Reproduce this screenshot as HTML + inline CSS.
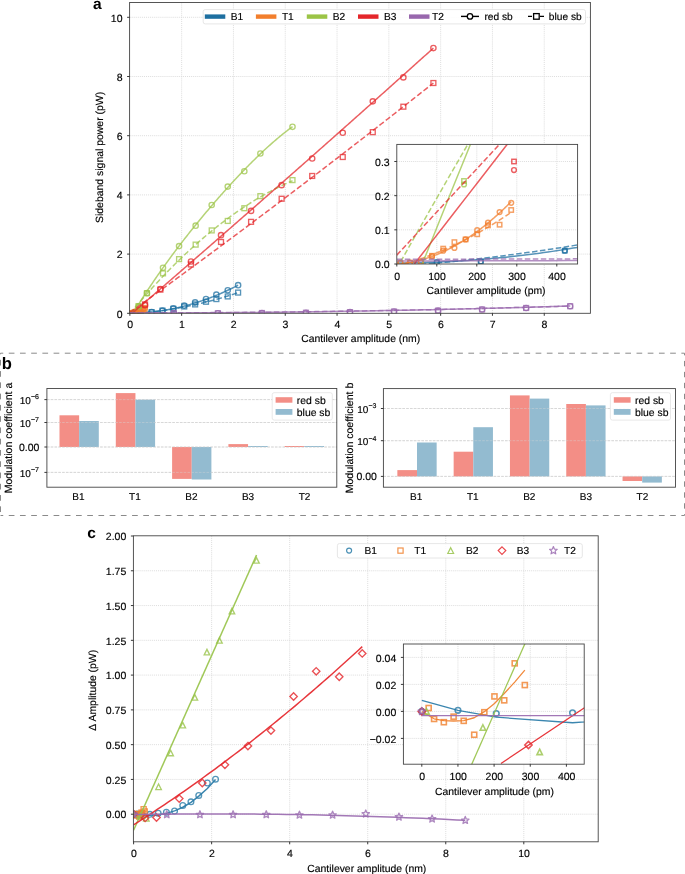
<!DOCTYPE html><html><head><meta charset="utf-8"><style>html,body{margin:0;padding:0;background:#fff;}</style></head><body><svg width="685" height="874" viewBox="0 0 685 874" style="display:block;font-family:'Liberation Sans',sans-serif;will-change:transform;text-rendering:geometricPrecision">
<rect width="685" height="874" fill="#fff"/>
<defs>
<clipPath id="ca"><rect x="129.6" y="2.5" width="460.79999999999995" height="310.8"/></clipPath>
<clipPath id="cai"><rect x="396.8" y="144.4" width="180.8" height="119.6"/></clipPath>
</defs>
<line x1="181.65" y1="2.5" x2="181.65" y2="313.3" stroke="#dadada" stroke-width="0.9" stroke-dasharray="1.05,1.0"/>
<line x1="233.45" y1="2.5" x2="233.45" y2="313.3" stroke="#dadada" stroke-width="0.9" stroke-dasharray="1.05,1.0"/>
<line x1="285.25" y1="2.5" x2="285.25" y2="313.3" stroke="#dadada" stroke-width="0.9" stroke-dasharray="1.05,1.0"/>
<line x1="337.05" y1="2.5" x2="337.05" y2="313.3" stroke="#dadada" stroke-width="0.9" stroke-dasharray="1.05,1.0"/>
<line x1="388.85" y1="2.5" x2="388.85" y2="313.3" stroke="#dadada" stroke-width="0.9" stroke-dasharray="1.05,1.0"/>
<line x1="440.65" y1="2.5" x2="440.65" y2="313.3" stroke="#dadada" stroke-width="0.9" stroke-dasharray="1.05,1.0"/>
<line x1="492.45" y1="2.5" x2="492.45" y2="313.3" stroke="#dadada" stroke-width="0.9" stroke-dasharray="1.05,1.0"/>
<line x1="544.25" y1="2.5" x2="544.25" y2="313.3" stroke="#dadada" stroke-width="0.9" stroke-dasharray="1.05,1.0"/>
<line x1="129.6" y1="254.10" x2="590.4" y2="254.10" stroke="#dadada" stroke-width="0.9" stroke-dasharray="1.05,1.0"/>
<line x1="129.6" y1="194.90" x2="590.4" y2="194.90" stroke="#dadada" stroke-width="0.9" stroke-dasharray="1.05,1.0"/>
<line x1="129.6" y1="135.70" x2="590.4" y2="135.70" stroke="#dadada" stroke-width="0.9" stroke-dasharray="1.05,1.0"/>
<line x1="129.6" y1="76.50" x2="590.4" y2="76.50" stroke="#dadada" stroke-width="0.9" stroke-dasharray="1.05,1.0"/>
<line x1="129.6" y1="17.30" x2="590.4" y2="17.30" stroke="#dadada" stroke-width="0.9" stroke-dasharray="1.05,1.0"/>
<polyline points="129.85,313.21 130.39,313.21 130.94,313.21 131.48,313.20 132.03,313.20 132.57,313.19 133.11,313.18 133.66,313.17 134.20,313.16 134.75,313.14 135.29,313.13 135.83,313.11 136.38,313.10 136.92,313.08 137.47,313.06 138.01,313.03 138.55,313.01 139.10,312.99 139.64,312.96 140.19,312.93 140.73,312.91 141.27,312.88 141.82,312.84 142.36,312.81 142.91,312.78 143.45,312.74 143.99,312.71 144.54,312.67 145.08,312.63 145.63,312.59 146.17,312.54 146.71,312.50 147.26,312.45 147.80,312.41 148.35,312.36 148.89,312.31 149.44,312.26 149.98,312.21 150.52,312.15 151.07,312.10 151.61,312.04 152.16,311.98 152.70,311.92 153.24,311.86 153.79,311.80 154.33,311.74 154.88,311.67 155.42,311.61 155.96,311.54 156.51,311.47 157.05,311.40 157.60,311.33 158.14,311.25 158.68,311.18 159.23,311.10 159.77,311.02 160.32,310.95 160.86,310.86 161.40,310.78 161.95,310.70 162.49,310.62 163.04,310.53 163.58,310.44 164.12,310.35 164.67,310.26 165.21,310.17 165.76,310.08 166.30,309.98 166.84,309.89 167.39,309.79 167.93,309.69 168.48,309.59 169.02,309.49 169.56,309.39 170.11,309.28 170.65,309.18 171.20,309.07 171.74,308.96 172.28,308.85 172.83,308.74 173.37,308.63 173.92,308.52 174.46,308.40 175.00,308.28 175.55,308.17 176.09,308.05 176.64,307.92 177.18,307.80 177.72,307.68 178.27,307.55 178.81,307.43 179.36,307.30 179.90,307.17 180.44,307.04 180.99,306.91 181.53,306.77 182.08,306.64 182.62,306.50 183.16,306.36 183.71,306.22 184.25,306.08 184.80,305.94 185.34,305.80 185.89,305.65 186.43,305.51 186.97,305.36 187.52,305.21 188.06,305.06 188.61,304.91 189.15,304.75 189.69,304.60 190.24,304.44 190.78,304.29 191.33,304.13 191.87,303.97 192.41,303.81 192.96,303.64 193.50,303.48 194.05,303.31 194.59,303.15 195.13,302.98 195.68,302.81 196.22,302.64 196.77,302.46 197.31,302.29 197.85,302.11 198.40,301.94 198.94,301.76 199.49,301.58 200.03,301.40 200.57,301.21 201.12,301.03 201.66,300.84 202.21,300.66 202.75,300.47 203.29,300.28 203.84,300.09 204.38,299.90 204.93,299.70 205.47,299.51 206.01,299.31 206.56,299.11 207.10,298.91 207.65,298.71 208.19,298.51 208.73,298.31 209.28,298.10 209.82,297.89 210.37,297.69 210.91,297.48 211.45,297.27 212.00,297.06 212.54,296.84 213.09,296.63 213.63,296.41 214.17,296.19 214.72,295.97 215.26,295.75 215.81,295.53 216.35,295.31 216.89,295.08 217.44,294.86 217.98,294.63 218.53,294.40 219.07,294.17 219.61,293.94 220.16,293.71 220.70,293.47 221.25,293.24 221.79,293.00 222.34,292.76 222.88,292.52 223.42,292.28 223.97,292.04 224.51,291.79 225.06,291.55 225.60,291.30 226.14,291.05 226.69,290.80 227.23,290.55 227.78,290.30 228.32,290.04 228.86,289.79 229.41,289.53 229.95,289.27 230.50,289.01 231.04,288.75 231.58,288.49 232.13,288.22 232.67,287.96 233.22,287.69 233.76,287.42 234.30,287.16 234.85,286.88 235.39,286.61 235.94,286.34 236.48,286.06 237.02,285.79 237.57,285.51 238.11,285.23" fill="none" stroke="#1d6fa0" stroke-width="1.5" stroke-opacity="0.74" stroke-linejoin="round" clip-path="url(#ca)"/>
<circle cx="135.03" cy="313.15" r="2.65" fill="none" stroke="#1d6fa0" stroke-width="1.35" stroke-opacity="0.74" clip-path="url(#ca)"/>
<circle cx="140.73" cy="313.09" r="2.65" fill="none" stroke="#1d6fa0" stroke-width="1.35" stroke-opacity="0.74" clip-path="url(#ca)"/>
<circle cx="151.61" cy="312.15" r="2.65" fill="none" stroke="#1d6fa0" stroke-width="1.35" stroke-opacity="0.74" clip-path="url(#ca)"/>
<circle cx="162.48" cy="310.64" r="2.65" fill="none" stroke="#1d6fa0" stroke-width="1.35" stroke-opacity="0.74" clip-path="url(#ca)"/>
<circle cx="173.36" cy="308.27" r="2.65" fill="none" stroke="#1d6fa0" stroke-width="1.35" stroke-opacity="0.74" clip-path="url(#ca)"/>
<circle cx="184.24" cy="305.60" r="2.65" fill="none" stroke="#1d6fa0" stroke-width="1.35" stroke-opacity="0.74" clip-path="url(#ca)"/>
<circle cx="195.12" cy="302.35" r="2.65" fill="none" stroke="#1d6fa0" stroke-width="1.35" stroke-opacity="0.74" clip-path="url(#ca)"/>
<circle cx="206.00" cy="299.09" r="2.65" fill="none" stroke="#1d6fa0" stroke-width="1.35" stroke-opacity="0.74" clip-path="url(#ca)"/>
<circle cx="216.36" cy="294.65" r="2.65" fill="none" stroke="#1d6fa0" stroke-width="1.35" stroke-opacity="0.74" clip-path="url(#ca)"/>
<circle cx="227.75" cy="290.21" r="2.65" fill="none" stroke="#1d6fa0" stroke-width="1.35" stroke-opacity="0.74" clip-path="url(#ca)"/>
<circle cx="238.11" cy="285.18" r="2.65" fill="none" stroke="#1d6fa0" stroke-width="1.35" stroke-opacity="0.74" clip-path="url(#ca)"/>
<polyline points="129.85,313.49 130.39,313.47 130.94,313.44 131.48,313.41 132.03,313.38 132.57,313.35 133.11,313.32 133.66,313.29 134.20,313.26 134.75,313.23 135.29,313.19 135.83,313.16 136.38,313.13 136.92,313.09 137.47,313.05 138.01,313.02 138.55,312.98 139.10,312.94 139.64,312.90 140.19,312.86 140.73,312.82 141.27,312.78 141.82,312.73 142.36,312.69 142.91,312.64 143.45,312.60 143.99,312.55 144.54,312.51 145.08,312.46 145.63,312.41 146.17,312.36 146.71,312.31 147.26,312.26 147.80,312.21 148.35,312.16 148.89,312.10 149.44,312.05 149.98,311.99 150.52,311.94 151.07,311.88 151.61,311.83 152.16,311.77 152.70,311.71 153.24,311.65 153.79,311.59 154.33,311.53 154.88,311.47 155.42,311.40 155.96,311.34 156.51,311.28 157.05,311.21 157.60,311.14 158.14,311.08 158.68,311.01 159.23,310.94 159.77,310.87 160.32,310.80 160.86,310.73 161.40,310.66 161.95,310.59 162.49,310.52 163.04,310.44 163.58,310.37 164.12,310.29 164.67,310.22 165.21,310.14 165.76,310.06 166.30,309.98 166.84,309.90 167.39,309.82 167.93,309.74 168.48,309.66 169.02,309.58 169.56,309.49 170.11,309.41 170.65,309.33 171.20,309.24 171.74,309.15 172.28,309.07 172.83,308.98 173.37,308.89 173.92,308.80 174.46,308.71 175.00,308.62 175.55,308.53 176.09,308.43 176.64,308.34 177.18,308.25 177.72,308.15 178.27,308.05 178.81,307.96 179.36,307.86 179.90,307.76 180.44,307.66 180.99,307.56 181.53,307.46 182.08,307.36 182.62,307.26 183.16,307.15 183.71,307.05 184.25,306.95 184.80,306.84 185.34,306.73 185.89,306.63 186.43,306.52 186.97,306.41 187.52,306.30 188.06,306.19 188.61,306.08 189.15,305.97 189.69,305.85 190.24,305.74 190.78,305.63 191.33,305.51 191.87,305.40 192.41,305.28 192.96,305.16 193.50,305.04 194.05,304.92 194.59,304.80 195.13,304.68 195.68,304.56 196.22,304.44 196.77,304.32 197.31,304.19 197.85,304.07 198.40,303.94 198.94,303.82 199.49,303.69 200.03,303.56 200.57,303.43 201.12,303.30 201.66,303.17 202.21,303.04 202.75,302.91 203.29,302.78 203.84,302.65 204.38,302.51 204.93,302.38 205.47,302.24 206.01,302.10 206.56,301.97 207.10,301.83 207.65,301.69 208.19,301.55 208.73,301.41 209.28,301.27 209.82,301.13 210.37,300.98 210.91,300.84 211.45,300.70 212.00,300.55 212.54,300.41 213.09,300.26 213.63,300.11 214.17,299.96 214.72,299.81 215.26,299.66 215.81,299.51 216.35,299.36 216.89,299.21 217.44,299.06 217.98,298.90 218.53,298.75 219.07,298.59 219.61,298.44 220.16,298.28 220.70,298.12 221.25,297.96 221.79,297.80 222.34,297.64 222.88,297.48 223.42,297.32 223.97,297.16 224.51,296.99 225.06,296.83 225.60,296.66 226.14,296.50 226.69,296.33 227.23,296.16 227.78,296.00 228.32,295.83 228.86,295.66 229.41,295.49 229.95,295.31 230.50,295.14 231.04,294.97 231.58,294.80 232.13,294.62 232.67,294.45 233.22,294.27 233.76,294.09 234.30,293.91 234.85,293.74 235.39,293.56 235.94,293.38 236.48,293.20 237.02,293.01 237.57,292.83 238.11,292.65" fill="none" stroke="#1d6fa0" stroke-width="1.5" stroke-opacity="0.74" stroke-linejoin="round" stroke-dasharray="5.5,2.5" clip-path="url(#ca)"/>
<rect x="132.59" y="310.71" width="4.88" height="4.88" fill="none" stroke="#1d6fa0" stroke-width="1.35" stroke-opacity="0.74" clip-path="url(#ca)"/>
<rect x="138.29" y="310.65" width="4.88" height="4.88" fill="none" stroke="#1d6fa0" stroke-width="1.35" stroke-opacity="0.74" clip-path="url(#ca)"/>
<rect x="149.17" y="309.71" width="4.88" height="4.88" fill="none" stroke="#1d6fa0" stroke-width="1.35" stroke-opacity="0.74" clip-path="url(#ca)"/>
<rect x="160.05" y="308.20" width="4.88" height="4.88" fill="none" stroke="#1d6fa0" stroke-width="1.35" stroke-opacity="0.74" clip-path="url(#ca)"/>
<rect x="170.92" y="306.42" width="4.88" height="4.88" fill="none" stroke="#1d6fa0" stroke-width="1.35" stroke-opacity="0.74" clip-path="url(#ca)"/>
<rect x="181.80" y="304.05" width="4.88" height="4.88" fill="none" stroke="#1d6fa0" stroke-width="1.35" stroke-opacity="0.74" clip-path="url(#ca)"/>
<rect x="192.68" y="301.98" width="4.88" height="4.88" fill="none" stroke="#1d6fa0" stroke-width="1.35" stroke-opacity="0.74" clip-path="url(#ca)"/>
<rect x="203.56" y="299.32" width="4.88" height="4.88" fill="none" stroke="#1d6fa0" stroke-width="1.35" stroke-opacity="0.74" clip-path="url(#ca)"/>
<rect x="213.92" y="296.65" width="4.88" height="4.88" fill="none" stroke="#1d6fa0" stroke-width="1.35" stroke-opacity="0.74" clip-path="url(#ca)"/>
<rect x="225.31" y="293.99" width="4.88" height="4.88" fill="none" stroke="#1d6fa0" stroke-width="1.35" stroke-opacity="0.74" clip-path="url(#ca)"/>
<rect x="235.67" y="290.14" width="4.88" height="4.88" fill="none" stroke="#1d6fa0" stroke-width="1.35" stroke-opacity="0.74" clip-path="url(#ca)"/>
<polyline points="129.85,313.33 129.92,313.32 130.00,313.32 130.07,313.31 130.15,313.31 130.22,313.30 130.30,313.30 130.37,313.29 130.45,313.29 130.52,313.28 130.59,313.27 130.67,313.27 130.74,313.26 130.82,313.25 130.89,313.25 130.97,313.24 131.04,313.23 131.12,313.22 131.19,313.22 131.26,313.21 131.34,313.20 131.41,313.19 131.49,313.18 131.56,313.17 131.64,313.16 131.71,313.15 131.79,313.14 131.86,313.13 131.93,313.12 132.01,313.11 132.08,313.10 132.16,313.09 132.23,313.08 132.31,313.07 132.38,313.05 132.46,313.04 132.53,313.03 132.60,313.02 132.68,313.00 132.75,312.99 132.83,312.98 132.90,312.96 132.98,312.95 133.05,312.94 133.13,312.92 133.20,312.91 133.27,312.89 133.35,312.88 133.42,312.86 133.50,312.85 133.57,312.83 133.65,312.82 133.72,312.80 133.80,312.78 133.87,312.77 133.94,312.75 134.02,312.73 134.09,312.72 134.17,312.70 134.24,312.68 134.32,312.66 134.39,312.64 134.47,312.63 134.54,312.61 134.61,312.59 134.69,312.57 134.76,312.55 134.84,312.53 134.91,312.51 134.99,312.49 135.06,312.47 135.14,312.45 135.21,312.43 135.28,312.41 135.36,312.39 135.43,312.37 135.51,312.34 135.58,312.32 135.66,312.30 135.73,312.28 135.81,312.26 135.88,312.23 135.95,312.21 136.03,312.19 136.10,312.16 136.18,312.14 136.25,312.12 136.33,312.09 136.40,312.07 136.48,312.04 136.55,312.02 136.62,311.99 136.70,311.97 136.77,311.94 136.85,311.91 136.92,311.89 137.00,311.86 137.07,311.84 137.15,311.81 137.22,311.78 137.29,311.75 137.37,311.73 137.44,311.70 137.52,311.67 137.59,311.64 137.67,311.61 137.74,311.59 137.82,311.56 137.89,311.53 137.96,311.50 138.04,311.47 138.11,311.44 138.19,311.41 138.26,311.38 138.34,311.35 138.41,311.32 138.49,311.29 138.56,311.26 138.63,311.22 138.71,311.19 138.78,311.16 138.86,311.13 138.93,311.10 139.01,311.06 139.08,311.03 139.16,311.00 139.23,310.96 139.30,310.93 139.38,310.90 139.45,310.86 139.53,310.83 139.60,310.79 139.68,310.76 139.75,310.72 139.83,310.69 139.90,310.65 139.97,310.62 140.05,310.58 140.12,310.55 140.20,310.51 140.27,310.47 140.35,310.44 140.42,310.40 140.50,310.36 140.57,310.32 140.64,310.29 140.72,310.25 140.79,310.21 140.87,310.17 140.94,310.13 141.02,310.09 141.09,310.05 141.17,310.02 141.24,309.98 141.31,309.94 141.39,309.90 141.46,309.86 141.54,309.81 141.61,309.77 141.69,309.73 141.76,309.69 141.84,309.65 141.91,309.61 141.98,309.57 142.06,309.52 142.13,309.48 142.21,309.44 142.28,309.40 142.36,309.35 142.43,309.31 142.51,309.27 142.58,309.22 142.65,309.18 142.73,309.13 142.80,309.09 142.88,309.04 142.95,309.00 143.03,308.95 143.10,308.91 143.18,308.86 143.25,308.82 143.32,308.77 143.40,308.73 143.47,308.68 143.55,308.63 143.62,308.58 143.70,308.54 143.77,308.49 143.85,308.44 143.92,308.39 143.99,308.35 144.07,308.30 144.14,308.25 144.22,308.20 144.29,308.15 144.37,308.10 144.44,308.05 144.52,308.00 144.59,307.95 144.66,307.90" fill="none" stroke="#f27e2c" stroke-width="1.5" stroke-opacity="0.74" stroke-linejoin="round" clip-path="url(#ca)"/>
<circle cx="130.32" cy="313.21" r="2.65" fill="none" stroke="#f27e2c" stroke-width="1.35" stroke-opacity="0.74" clip-path="url(#ca)"/>
<circle cx="131.56" cy="313.18" r="2.65" fill="none" stroke="#f27e2c" stroke-width="1.35" stroke-opacity="0.74" clip-path="url(#ca)"/>
<circle cx="132.96" cy="313.09" r="2.65" fill="none" stroke="#f27e2c" stroke-width="1.35" stroke-opacity="0.74" clip-path="url(#ca)"/>
<circle cx="134.41" cy="312.62" r="2.65" fill="none" stroke="#f27e2c" stroke-width="1.35" stroke-opacity="0.74" clip-path="url(#ca)"/>
<circle cx="135.86" cy="312.15" r="2.65" fill="none" stroke="#f27e2c" stroke-width="1.35" stroke-opacity="0.74" clip-path="url(#ca)"/>
<circle cx="137.31" cy="311.91" r="2.65" fill="none" stroke="#f27e2c" stroke-width="1.35" stroke-opacity="0.74" clip-path="url(#ca)"/>
<circle cx="138.76" cy="311.17" r="2.65" fill="none" stroke="#f27e2c" stroke-width="1.35" stroke-opacity="0.74" clip-path="url(#ca)"/>
<circle cx="140.26" cy="310.37" r="2.65" fill="none" stroke="#f27e2c" stroke-width="1.35" stroke-opacity="0.74" clip-path="url(#ca)"/>
<circle cx="141.66" cy="309.72" r="2.65" fill="none" stroke="#f27e2c" stroke-width="1.35" stroke-opacity="0.74" clip-path="url(#ca)"/>
<circle cx="143.16" cy="308.80" r="2.65" fill="none" stroke="#f27e2c" stroke-width="1.35" stroke-opacity="0.74" clip-path="url(#ca)"/>
<circle cx="144.66" cy="308.00" r="2.65" fill="none" stroke="#f27e2c" stroke-width="1.35" stroke-opacity="0.74" clip-path="url(#ca)"/>
<polyline points="129.85,313.46 129.92,313.45 130.00,313.44 130.07,313.43 130.15,313.41 130.22,313.40 130.30,313.39 130.37,313.37 130.45,313.36 130.52,313.35 130.59,313.33 130.67,313.32 130.74,313.30 130.82,313.29 130.89,313.28 130.97,313.26 131.04,313.25 131.12,313.23 131.19,313.22 131.26,313.21 131.34,313.19 131.41,313.18 131.49,313.16 131.56,313.15 131.64,313.13 131.71,313.12 131.79,313.10 131.86,313.08 131.93,313.07 132.01,313.05 132.08,313.04 132.16,313.02 132.23,313.01 132.31,312.99 132.38,312.97 132.46,312.96 132.53,312.94 132.60,312.92 132.68,312.91 132.75,312.89 132.83,312.87 132.90,312.86 132.98,312.84 133.05,312.82 133.13,312.81 133.20,312.79 133.27,312.77 133.35,312.75 133.42,312.74 133.50,312.72 133.57,312.70 133.65,312.68 133.72,312.66 133.80,312.65 133.87,312.63 133.94,312.61 134.02,312.59 134.09,312.57 134.17,312.55 134.24,312.53 134.32,312.51 134.39,312.50 134.47,312.48 134.54,312.46 134.61,312.44 134.69,312.42 134.76,312.40 134.84,312.38 134.91,312.36 134.99,312.34 135.06,312.32 135.14,312.30 135.21,312.28 135.28,312.26 135.36,312.24 135.43,312.22 135.51,312.20 135.58,312.17 135.66,312.15 135.73,312.13 135.81,312.11 135.88,312.09 135.95,312.07 136.03,312.05 136.10,312.03 136.18,312.00 136.25,311.98 136.33,311.96 136.40,311.94 136.48,311.92 136.55,311.89 136.62,311.87 136.70,311.85 136.77,311.83 136.85,311.80 136.92,311.78 137.00,311.76 137.07,311.74 137.15,311.71 137.22,311.69 137.29,311.67 137.37,311.64 137.44,311.62 137.52,311.59 137.59,311.57 137.67,311.55 137.74,311.52 137.82,311.50 137.89,311.48 137.96,311.45 138.04,311.43 138.11,311.40 138.19,311.38 138.26,311.35 138.34,311.33 138.41,311.30 138.49,311.28 138.56,311.25 138.63,311.23 138.71,311.20 138.78,311.18 138.86,311.15 138.93,311.13 139.01,311.10 139.08,311.07 139.16,311.05 139.23,311.02 139.30,311.00 139.38,310.97 139.45,310.94 139.53,310.92 139.60,310.89 139.68,310.86 139.75,310.84 139.83,310.81 139.90,310.78 139.97,310.75 140.05,310.73 140.12,310.70 140.20,310.67 140.27,310.64 140.35,310.62 140.42,310.59 140.50,310.56 140.57,310.53 140.64,310.50 140.72,310.48 140.79,310.45 140.87,310.42 140.94,310.39 141.02,310.36 141.09,310.33 141.17,310.30 141.24,310.28 141.31,310.25 141.39,310.22 141.46,310.19 141.54,310.16 141.61,310.13 141.69,310.10 141.76,310.07 141.84,310.04 141.91,310.01 141.98,309.98 142.06,309.95 142.13,309.92 142.21,309.89 142.28,309.86 142.36,309.83 142.43,309.80 142.51,309.77 142.58,309.73 142.65,309.70 142.73,309.67 142.80,309.64 142.88,309.61 142.95,309.58 143.03,309.55 143.10,309.51 143.18,309.48 143.25,309.45 143.32,309.42 143.40,309.39 143.47,309.35 143.55,309.32 143.62,309.29 143.70,309.26 143.77,309.22 143.85,309.19 143.92,309.16 143.99,309.13 144.07,309.09 144.14,309.06 144.22,309.03 144.29,308.99 144.37,308.96 144.44,308.93 144.52,308.89 144.59,308.86 144.66,308.82" fill="none" stroke="#f27e2c" stroke-width="1.5" stroke-opacity="0.74" stroke-linejoin="round" stroke-dasharray="5.5,2.5" clip-path="url(#ca)"/>
<rect x="127.88" y="310.77" width="4.88" height="4.88" fill="none" stroke="#f27e2c" stroke-width="1.35" stroke-opacity="0.74" clip-path="url(#ca)"/>
<rect x="129.12" y="310.74" width="4.88" height="4.88" fill="none" stroke="#f27e2c" stroke-width="1.35" stroke-opacity="0.74" clip-path="url(#ca)"/>
<rect x="130.52" y="310.71" width="4.88" height="4.88" fill="none" stroke="#f27e2c" stroke-width="1.35" stroke-opacity="0.74" clip-path="url(#ca)"/>
<rect x="131.97" y="310.15" width="4.88" height="4.88" fill="none" stroke="#f27e2c" stroke-width="1.35" stroke-opacity="0.74" clip-path="url(#ca)"/>
<rect x="133.42" y="309.53" width="4.88" height="4.88" fill="none" stroke="#f27e2c" stroke-width="1.35" stroke-opacity="0.74" clip-path="url(#ca)"/>
<rect x="134.87" y="308.97" width="4.88" height="4.88" fill="none" stroke="#f27e2c" stroke-width="1.35" stroke-opacity="0.74" clip-path="url(#ca)"/>
<rect x="136.32" y="308.73" width="4.88" height="4.88" fill="none" stroke="#f27e2c" stroke-width="1.35" stroke-opacity="0.74" clip-path="url(#ca)"/>
<rect x="137.82" y="308.29" width="4.88" height="4.88" fill="none" stroke="#f27e2c" stroke-width="1.35" stroke-opacity="0.74" clip-path="url(#ca)"/>
<rect x="139.22" y="307.52" width="4.88" height="4.88" fill="none" stroke="#f27e2c" stroke-width="1.35" stroke-opacity="0.74" clip-path="url(#ca)"/>
<rect x="140.72" y="307.46" width="4.88" height="4.88" fill="none" stroke="#f27e2c" stroke-width="1.35" stroke-opacity="0.74" clip-path="url(#ca)"/>
<rect x="142.23" y="306.19" width="4.88" height="4.88" fill="none" stroke="#f27e2c" stroke-width="1.35" stroke-opacity="0.74" clip-path="url(#ca)"/>
<polyline points="129.85,318.75 130.67,317.37 131.48,316.00 132.30,314.63 133.12,313.28 133.94,311.92 134.75,310.58 135.57,309.24 136.39,307.91 137.21,306.59 138.02,305.27 138.84,303.96 139.66,302.65 140.48,301.35 141.29,300.06 142.11,298.77 142.93,297.49 143.74,296.22 144.56,294.95 145.38,293.69 146.20,292.43 147.01,291.18 147.83,289.94 148.65,288.70 149.47,287.47 150.28,286.24 151.10,285.01 151.92,283.80 152.74,282.58 153.55,281.38 154.37,280.18 155.19,278.98 156.01,277.79 156.82,276.60 157.64,275.42 158.46,274.24 159.27,273.07 160.09,271.90 160.91,270.74 161.73,269.58 162.54,268.42 163.36,267.27 164.18,266.13 165.00,264.99 165.81,263.85 166.63,262.72 167.45,261.59 168.27,260.47 169.08,259.35 169.90,258.23 170.72,257.12 171.53,256.01 172.35,254.91 173.17,253.81 173.99,252.72 174.80,251.62 175.62,250.53 176.44,249.45 177.26,248.37 178.07,247.29 178.89,246.22 179.71,245.15 180.53,244.08 181.34,243.02 182.16,241.96 182.98,240.90 183.79,239.85 184.61,238.80 185.43,237.75 186.25,236.71 187.06,235.67 187.88,234.63 188.70,233.60 189.52,232.57 190.33,231.54 191.15,230.51 191.97,229.49 192.79,228.47 193.60,227.46 194.42,226.45 195.24,225.44 196.06,224.43 196.87,223.43 197.69,222.43 198.51,221.43 199.32,220.43 200.14,219.44 200.96,218.45 201.78,217.47 202.59,216.48 203.41,215.50 204.23,214.52 205.05,213.55 205.86,212.57 206.68,211.60 207.50,210.64 208.32,209.67 209.13,208.71 209.95,207.75 210.77,206.79 211.58,205.84 212.40,204.89 213.22,203.94 214.04,202.99 214.85,202.05 215.67,201.11 216.49,200.17 217.31,199.23 218.12,198.30 218.94,197.37 219.76,196.44 220.58,195.52 221.39,194.59 222.21,193.67 223.03,192.76 223.84,191.84 224.66,190.93 225.48,190.02 226.30,189.11 227.11,188.21 227.93,187.31 228.75,186.41 229.57,185.51 230.38,184.62 231.20,183.73 232.02,182.84 232.84,181.95 233.65,181.07 234.47,180.19 235.29,179.31 236.11,178.44 236.92,177.57 237.74,176.70 238.56,175.83 239.37,174.97 240.19,174.11 241.01,173.25 241.83,172.40 242.64,171.55 243.46,170.70 244.28,169.86 245.10,169.01 245.91,168.17 246.73,167.34 247.55,166.51 248.37,165.68 249.18,164.85 250.00,164.03 250.82,163.21 251.63,162.39 252.45,161.58 253.27,160.77 254.09,159.96 254.90,159.16 255.72,158.36 256.54,157.56 257.36,156.77 258.17,155.98 258.99,155.19 259.81,154.41 260.63,153.63 261.44,152.86 262.26,152.09 263.08,151.32 263.89,150.56 264.71,149.80 265.53,149.04 266.35,148.29 267.16,147.54 267.98,146.80 268.80,146.06 269.62,145.33 270.43,144.60 271.25,143.87 272.07,143.15 272.89,142.43 273.70,141.72 274.52,141.01 275.34,140.31 276.16,139.61 276.97,138.91 277.79,138.22 278.61,137.54 279.42,136.86 280.24,136.18 281.06,135.51 281.88,134.85 282.69,134.19 283.51,133.53 284.33,132.88 285.15,132.24 285.96,131.60 286.78,130.97 287.60,130.34 288.42,129.72 289.23,129.10 290.05,128.49 290.87,127.88 291.68,127.28 292.50,126.69" fill="none" stroke="#9bc446" stroke-width="1.5" stroke-opacity="0.74" stroke-linejoin="round" clip-path="url(#ca)"/>
<circle cx="138.55" cy="306.40" r="2.65" fill="none" stroke="#9bc446" stroke-width="1.35" stroke-opacity="0.74" clip-path="url(#ca)"/>
<circle cx="146.94" cy="293.17" r="2.65" fill="none" stroke="#9bc446" stroke-width="1.35" stroke-opacity="0.74" clip-path="url(#ca)"/>
<circle cx="163.00" cy="267.72" r="2.65" fill="none" stroke="#9bc446" stroke-width="1.35" stroke-opacity="0.74" clip-path="url(#ca)"/>
<circle cx="179.06" cy="246.11" r="2.65" fill="none" stroke="#9bc446" stroke-width="1.35" stroke-opacity="0.74" clip-path="url(#ca)"/>
<circle cx="195.64" cy="225.68" r="2.65" fill="none" stroke="#9bc446" stroke-width="1.35" stroke-opacity="0.74" clip-path="url(#ca)"/>
<circle cx="211.69" cy="204.96" r="2.65" fill="none" stroke="#9bc446" stroke-width="1.35" stroke-opacity="0.74" clip-path="url(#ca)"/>
<circle cx="227.75" cy="186.61" r="2.65" fill="none" stroke="#9bc446" stroke-width="1.35" stroke-opacity="0.74" clip-path="url(#ca)"/>
<circle cx="244.33" cy="171.22" r="2.65" fill="none" stroke="#9bc446" stroke-width="1.35" stroke-opacity="0.74" clip-path="url(#ca)"/>
<circle cx="260.39" cy="153.46" r="2.65" fill="none" stroke="#9bc446" stroke-width="1.35" stroke-opacity="0.74" clip-path="url(#ca)"/>
<circle cx="292.50" cy="126.82" r="2.65" fill="none" stroke="#9bc446" stroke-width="1.35" stroke-opacity="0.74" clip-path="url(#ca)"/>
<polyline points="129.85,313.72 130.67,312.74 131.48,311.75 132.30,310.77 133.12,309.80 133.94,308.83 134.75,307.86 135.57,306.89 136.39,305.93 137.21,304.97 138.02,304.01 138.84,303.06 139.66,302.11 140.48,301.16 141.29,300.22 142.11,299.28 142.93,298.34 143.74,297.41 144.56,296.48 145.38,295.55 146.20,294.62 147.01,293.70 147.83,292.78 148.65,291.87 149.47,290.96 150.28,290.05 151.10,289.14 151.92,288.24 152.74,287.34 153.55,286.45 154.37,285.55 155.19,284.67 156.01,283.78 156.82,282.90 157.64,282.02 158.46,281.14 159.27,280.27 160.09,279.40 160.91,278.53 161.73,277.67 162.54,276.81 163.36,275.95 164.18,275.10 165.00,274.25 165.81,273.40 166.63,272.55 167.45,271.71 168.27,270.87 169.08,270.04 169.90,269.21 170.72,268.38 171.53,267.55 172.35,266.73 173.17,265.91 173.99,265.10 174.80,264.29 175.62,263.48 176.44,262.67 177.26,261.87 178.07,261.07 178.89,260.27 179.71,259.48 180.53,258.69 181.34,257.90 182.16,257.12 182.98,256.34 183.79,255.56 184.61,254.79 185.43,254.02 186.25,253.25 187.06,252.49 187.88,251.72 188.70,250.97 189.52,250.21 190.33,249.46 191.15,248.71 191.97,247.97 192.79,247.22 193.60,246.49 194.42,245.75 195.24,245.02 196.06,244.29 196.87,243.56 197.69,242.84 198.51,242.12 199.32,241.41 200.14,240.69 200.96,239.98 201.78,239.28 202.59,238.57 203.41,237.87 204.23,237.17 205.05,236.48 205.86,235.79 206.68,235.10 207.50,234.42 208.32,233.74 209.13,233.06 209.95,232.39 210.77,231.71 211.58,231.05 212.40,230.38 213.22,229.72 214.04,229.06 214.85,228.40 215.67,227.75 216.49,227.10 217.31,226.46 218.12,225.82 218.94,225.18 219.76,224.54 220.58,223.91 221.39,223.28 222.21,222.65 223.03,222.03 223.84,221.41 224.66,220.79 225.48,220.18 226.30,219.57 227.11,218.96 227.93,218.35 228.75,217.75 229.57,217.16 230.38,216.56 231.20,215.97 232.02,215.38 232.84,214.80 233.65,214.21 234.47,213.64 235.29,213.06 236.11,212.49 236.92,211.92 237.74,211.35 238.56,210.79 239.37,210.23 240.19,209.68 241.01,209.12 241.83,208.57 242.64,208.03 243.46,207.48 244.28,206.94 245.10,206.41 245.91,205.87 246.73,205.34 247.55,204.82 248.37,204.29 249.18,203.77 250.00,203.25 250.82,202.74 251.63,202.23 252.45,201.72 253.27,201.21 254.09,200.71 254.90,200.21 255.72,199.72 256.54,199.23 257.36,198.74 258.17,198.25 258.99,197.77 259.81,197.29 260.63,196.81 261.44,196.34 262.26,195.87 263.08,195.41 263.89,194.94 264.71,194.48 265.53,194.03 266.35,193.57 267.16,193.12 267.98,192.67 268.80,192.23 269.62,191.79 270.43,191.35 271.25,190.92 272.07,190.49 272.89,190.06 273.70,189.63 274.52,189.21 275.34,188.79 276.16,188.38 276.97,187.97 277.79,187.56 278.61,187.15 279.42,186.75 280.24,186.35 281.06,185.95 281.88,185.56 282.69,185.17 283.51,184.79 284.33,184.40 285.15,184.02 285.96,183.65 286.78,183.27 287.60,182.90 288.42,182.54 289.23,182.17 290.05,181.81 290.87,181.45 291.68,181.10 292.50,180.75" fill="none" stroke="#9bc446" stroke-width="1.5" stroke-opacity="0.74" stroke-linejoin="round" stroke-dasharray="5.5,2.5" clip-path="url(#ca)"/>
<rect x="136.11" y="303.67" width="4.88" height="4.88" fill="none" stroke="#9bc446" stroke-width="1.35" stroke-opacity="0.74" clip-path="url(#ca)"/>
<rect x="144.51" y="290.73" width="4.88" height="4.88" fill="none" stroke="#9bc446" stroke-width="1.35" stroke-opacity="0.74" clip-path="url(#ca)"/>
<rect x="160.56" y="270.90" width="4.88" height="4.88" fill="none" stroke="#9bc446" stroke-width="1.35" stroke-opacity="0.74" clip-path="url(#ca)"/>
<rect x="176.62" y="256.69" width="4.88" height="4.88" fill="none" stroke="#9bc446" stroke-width="1.35" stroke-opacity="0.74" clip-path="url(#ca)"/>
<rect x="193.20" y="242.19" width="4.88" height="4.88" fill="none" stroke="#9bc446" stroke-width="1.35" stroke-opacity="0.74" clip-path="url(#ca)"/>
<rect x="209.26" y="227.98" width="4.88" height="4.88" fill="none" stroke="#9bc446" stroke-width="1.35" stroke-opacity="0.74" clip-path="url(#ca)"/>
<rect x="225.31" y="218.51" width="4.88" height="4.88" fill="none" stroke="#9bc446" stroke-width="1.35" stroke-opacity="0.74" clip-path="url(#ca)"/>
<rect x="241.89" y="205.78" width="4.88" height="4.88" fill="none" stroke="#9bc446" stroke-width="1.35" stroke-opacity="0.74" clip-path="url(#ca)"/>
<rect x="257.95" y="193.65" width="4.88" height="4.88" fill="none" stroke="#9bc446" stroke-width="1.35" stroke-opacity="0.74" clip-path="url(#ca)"/>
<rect x="290.06" y="177.66" width="4.88" height="4.88" fill="none" stroke="#9bc446" stroke-width="1.35" stroke-opacity="0.74" clip-path="url(#ca)"/>
<polyline points="129.85,315.26 131.38,313.95 132.90,312.64 134.43,311.32 135.95,310.01 137.48,308.69 139.00,307.38 140.53,306.06 142.05,304.75 143.58,303.43 145.10,302.11 146.63,300.80 148.15,299.48 149.68,298.16 151.21,296.85 152.73,295.53 154.26,294.21 155.78,292.89 157.31,291.57 158.83,290.26 160.36,288.94 161.88,287.62 163.41,286.30 164.93,284.98 166.46,283.66 167.98,282.34 169.51,281.02 171.03,279.69 172.56,278.37 174.09,277.05 175.61,275.73 177.14,274.41 178.66,273.08 180.19,271.76 181.71,270.44 183.24,269.11 184.76,267.79 186.29,266.47 187.81,265.14 189.34,263.82 190.86,262.49 192.39,261.17 193.92,259.84 195.44,258.52 196.97,257.19 198.49,255.86 200.02,254.54 201.54,253.21 203.07,251.88 204.59,250.55 206.12,249.23 207.64,247.90 209.17,246.57 210.69,245.24 212.22,243.91 213.75,242.58 215.27,241.25 216.80,239.92 218.32,238.59 219.85,237.26 221.37,235.93 222.90,234.60 224.42,233.27 225.95,231.94 227.47,230.61 229.00,229.27 230.52,227.94 232.05,226.61 233.57,225.27 235.10,223.94 236.63,222.61 238.15,221.27 239.68,219.94 241.20,218.60 242.73,217.27 244.25,215.93 245.78,214.60 247.30,213.26 248.83,211.93 250.35,210.59 251.88,209.25 253.40,207.92 254.93,206.58 256.46,205.24 257.98,203.90 259.51,202.57 261.03,201.23 262.56,199.89 264.08,198.55 265.61,197.21 267.13,195.87 268.66,194.53 270.18,193.19 271.71,191.85 273.23,190.51 274.76,189.17 276.29,187.83 277.81,186.48 279.34,185.14 280.86,183.80 282.39,182.46 283.91,181.11 285.44,179.77 286.96,178.43 288.49,177.08 290.01,175.74 291.54,174.40 293.06,173.05 294.59,171.71 296.11,170.36 297.64,169.01 299.17,167.67 300.69,166.32 302.22,164.98 303.74,163.63 305.27,162.28 306.79,160.94 308.32,159.59 309.84,158.24 311.37,156.89 312.89,155.54 314.42,154.19 315.94,152.85 317.47,151.50 319.00,150.15 320.52,148.80 322.05,147.45 323.57,146.10 325.10,144.75 326.62,143.39 328.15,142.04 329.67,140.69 331.20,139.34 332.72,137.99 334.25,136.63 335.77,135.28 337.30,133.93 338.83,132.57 340.35,131.22 341.88,129.87 343.40,128.51 344.93,127.16 346.45,125.80 347.98,124.45 349.50,123.09 351.03,121.74 352.55,120.38 354.08,119.02 355.60,117.67 357.13,116.31 358.66,114.95 360.18,113.60 361.71,112.24 363.23,110.88 364.76,109.52 366.28,108.16 367.81,106.80 369.33,105.44 370.86,104.08 372.38,102.72 373.91,101.36 375.43,100.00 376.96,98.64 378.48,97.28 380.01,95.92 381.54,94.56 383.06,93.20 384.59,91.83 386.11,90.47 387.64,89.11 389.16,87.75 390.69,86.38 392.21,85.02 393.74,83.65 395.26,82.29 396.79,80.93 398.31,79.56 399.84,78.20 401.37,76.83 402.89,75.46 404.42,74.10 405.94,72.73 407.47,71.37 408.99,70.00 410.52,68.63 412.04,67.26 413.57,65.90 415.09,64.53 416.62,63.16 418.14,61.79 419.67,60.42 421.20,59.05 422.72,57.68 424.25,56.31 425.77,54.94 427.30,53.57 428.82,52.20 430.35,50.83 431.87,49.46 433.40,48.09" fill="none" stroke="#e4262a" stroke-width="1.5" stroke-opacity="0.74" stroke-linejoin="round" clip-path="url(#ca)"/>
<circle cx="145.03" cy="305.16" r="2.65" fill="none" stroke="#e4262a" stroke-width="1.35" stroke-opacity="0.74" clip-path="url(#ca)"/>
<circle cx="160.41" cy="289.03" r="2.65" fill="none" stroke="#e4262a" stroke-width="1.35" stroke-opacity="0.74" clip-path="url(#ca)"/>
<circle cx="190.97" cy="261.50" r="2.65" fill="none" stroke="#e4262a" stroke-width="1.35" stroke-opacity="0.74" clip-path="url(#ca)"/>
<circle cx="221.02" cy="235.16" r="2.65" fill="none" stroke="#e4262a" stroke-width="1.35" stroke-opacity="0.74" clip-path="url(#ca)"/>
<circle cx="251.06" cy="210.88" r="2.65" fill="none" stroke="#e4262a" stroke-width="1.35" stroke-opacity="0.74" clip-path="url(#ca)"/>
<circle cx="281.62" cy="185.13" r="2.65" fill="none" stroke="#e4262a" stroke-width="1.35" stroke-opacity="0.74" clip-path="url(#ca)"/>
<circle cx="312.19" cy="158.49" r="2.65" fill="none" stroke="#e4262a" stroke-width="1.35" stroke-opacity="0.74" clip-path="url(#ca)"/>
<circle cx="342.75" cy="132.74" r="2.65" fill="none" stroke="#e4262a" stroke-width="1.35" stroke-opacity="0.74" clip-path="url(#ca)"/>
<circle cx="372.79" cy="101.36" r="2.65" fill="none" stroke="#e4262a" stroke-width="1.35" stroke-opacity="0.74" clip-path="url(#ca)"/>
<circle cx="403.35" cy="77.39" r="2.65" fill="none" stroke="#e4262a" stroke-width="1.35" stroke-opacity="0.74" clip-path="url(#ca)"/>
<circle cx="433.40" cy="48.08" r="2.65" fill="none" stroke="#e4262a" stroke-width="1.35" stroke-opacity="0.74" clip-path="url(#ca)"/>
<polyline points="129.85,312.53 131.38,311.43 132.90,310.33 134.43,309.23 135.95,308.13 137.48,307.03 139.00,305.93 140.53,304.83 142.05,303.72 143.58,302.62 145.10,301.52 146.63,300.41 148.15,299.31 149.68,298.20 151.21,297.10 152.73,295.99 154.26,294.88 155.78,293.77 157.31,292.67 158.83,291.56 160.36,290.45 161.88,289.34 163.41,288.23 164.93,287.12 166.46,286.00 167.98,284.89 169.51,283.78 171.03,282.67 172.56,281.55 174.09,280.44 175.61,279.32 177.14,278.21 178.66,277.09 180.19,275.98 181.71,274.86 183.24,273.74 184.76,272.62 186.29,271.50 187.81,270.39 189.34,269.27 190.86,268.15 192.39,267.02 193.92,265.90 195.44,264.78 196.97,263.66 198.49,262.54 200.02,261.41 201.54,260.29 203.07,259.16 204.59,258.04 206.12,256.91 207.64,255.79 209.17,254.66 210.69,253.53 212.22,252.40 213.75,251.27 215.27,250.14 216.80,249.02 218.32,247.88 219.85,246.75 221.37,245.62 222.90,244.49 224.42,243.36 225.95,242.23 227.47,241.09 229.00,239.96 230.52,238.82 232.05,237.69 233.57,236.55 235.10,235.42 236.63,234.28 238.15,233.14 239.68,232.00 241.20,230.86 242.73,229.73 244.25,228.59 245.78,227.45 247.30,226.31 248.83,225.16 250.35,224.02 251.88,222.88 253.40,221.74 254.93,220.59 256.46,219.45 257.98,218.30 259.51,217.16 261.03,216.01 262.56,214.87 264.08,213.72 265.61,212.57 267.13,211.43 268.66,210.28 270.18,209.13 271.71,207.98 273.23,206.83 274.76,205.68 276.29,204.53 277.81,203.38 279.34,202.22 280.86,201.07 282.39,199.92 283.91,198.76 285.44,197.61 286.96,196.45 288.49,195.30 290.01,194.14 291.54,192.98 293.06,191.83 294.59,190.67 296.11,189.51 297.64,188.35 299.17,187.19 300.69,186.03 302.22,184.87 303.74,183.71 305.27,182.55 306.79,181.39 308.32,180.23 309.84,179.06 311.37,177.90 312.89,176.73 314.42,175.57 315.94,174.40 317.47,173.24 319.00,172.07 320.52,170.90 322.05,169.74 323.57,168.57 325.10,167.40 326.62,166.23 328.15,165.06 329.67,163.89 331.20,162.72 332.72,161.55 334.25,160.37 335.77,159.20 337.30,158.03 338.83,156.85 340.35,155.68 341.88,154.51 343.40,153.33 344.93,152.15 346.45,150.98 347.98,149.80 349.50,148.62 351.03,147.45 352.55,146.27 354.08,145.09 355.60,143.91 357.13,142.73 358.66,141.55 360.18,140.36 361.71,139.18 363.23,138.00 364.76,136.82 366.28,135.63 367.81,134.45 369.33,133.26 370.86,132.08 372.38,130.89 373.91,129.71 375.43,128.52 376.96,127.33 378.48,126.14 380.01,124.96 381.54,123.77 383.06,122.58 384.59,121.39 386.11,120.20 387.64,119.00 389.16,117.81 390.69,116.62 392.21,115.43 393.74,114.23 395.26,113.04 396.79,111.85 398.31,110.65 399.84,109.45 401.37,108.26 402.89,107.06 404.42,105.86 405.94,104.67 407.47,103.47 408.99,102.27 410.52,101.07 412.04,99.87 413.57,98.67 415.09,97.47 416.62,96.26 418.14,95.06 419.67,93.86 421.20,92.66 422.72,91.45 424.25,90.25 425.77,89.04 427.30,87.84 428.82,86.63 430.35,85.42 431.87,84.22 433.40,83.01" fill="none" stroke="#e4262a" stroke-width="1.5" stroke-opacity="0.74" stroke-linejoin="round" stroke-dasharray="5.5,2.5" clip-path="url(#ca)"/>
<rect x="142.59" y="301.98" width="4.88" height="4.88" fill="none" stroke="#e4262a" stroke-width="1.35" stroke-opacity="0.74" clip-path="url(#ca)"/>
<rect x="157.97" y="287.18" width="4.88" height="4.88" fill="none" stroke="#e4262a" stroke-width="1.35" stroke-opacity="0.74" clip-path="url(#ca)"/>
<rect x="188.54" y="262.02" width="4.88" height="4.88" fill="none" stroke="#e4262a" stroke-width="1.35" stroke-opacity="0.74" clip-path="url(#ca)"/>
<rect x="218.58" y="239.53" width="4.88" height="4.88" fill="none" stroke="#e4262a" stroke-width="1.35" stroke-opacity="0.74" clip-path="url(#ca)"/>
<rect x="248.62" y="219.40" width="4.88" height="4.88" fill="none" stroke="#e4262a" stroke-width="1.35" stroke-opacity="0.74" clip-path="url(#ca)"/>
<rect x="279.19" y="196.31" width="4.88" height="4.88" fill="none" stroke="#e4262a" stroke-width="1.35" stroke-opacity="0.74" clip-path="url(#ca)"/>
<rect x="309.75" y="173.52" width="4.88" height="4.88" fill="none" stroke="#e4262a" stroke-width="1.35" stroke-opacity="0.74" clip-path="url(#ca)"/>
<rect x="340.31" y="154.57" width="4.88" height="4.88" fill="none" stroke="#e4262a" stroke-width="1.35" stroke-opacity="0.74" clip-path="url(#ca)"/>
<rect x="370.35" y="129.71" width="4.88" height="4.88" fill="none" stroke="#e4262a" stroke-width="1.35" stroke-opacity="0.74" clip-path="url(#ca)"/>
<rect x="400.92" y="104.25" width="4.88" height="4.88" fill="none" stroke="#e4262a" stroke-width="1.35" stroke-opacity="0.74" clip-path="url(#ca)"/>
<rect x="430.96" y="80.57" width="4.88" height="4.88" fill="none" stroke="#e4262a" stroke-width="1.35" stroke-opacity="0.74" clip-path="url(#ca)"/>
<polyline points="129.85,313.03 132.06,313.03 134.28,313.03 136.49,313.03 138.70,313.03 140.91,313.02 143.13,313.02 145.34,313.02 147.55,313.01 149.76,313.01 151.98,313.00 154.19,313.00 156.40,313.00 158.61,312.99 160.83,312.98 163.04,312.98 165.25,312.97 167.46,312.96 169.68,312.96 171.89,312.95 174.10,312.94 176.31,312.93 178.53,312.92 180.74,312.92 182.95,312.91 185.16,312.90 187.38,312.89 189.59,312.88 191.80,312.87 194.01,312.86 196.23,312.84 198.44,312.83 200.65,312.82 202.86,312.81 205.08,312.80 207.29,312.78 209.50,312.77 211.71,312.75 213.93,312.74 216.14,312.73 218.35,312.71 220.57,312.70 222.78,312.68 224.99,312.67 227.20,312.65 229.42,312.63 231.63,312.62 233.84,312.60 236.05,312.58 238.27,312.56 240.48,312.54 242.69,312.53 244.90,312.51 247.12,312.49 249.33,312.47 251.54,312.45 253.75,312.43 255.97,312.41 258.18,312.39 260.39,312.36 262.60,312.34 264.82,312.32 267.03,312.30 269.24,312.28 271.45,312.25 273.67,312.23 275.88,312.21 278.09,312.18 280.30,312.16 282.52,312.13 284.73,312.11 286.94,312.08 289.15,312.06 291.37,312.03 293.58,312.00 295.79,311.98 298.00,311.95 300.22,311.92 302.43,311.89 304.64,311.87 306.86,311.84 309.07,311.81 311.28,311.78 313.49,311.75 315.71,311.72 317.92,311.69 320.13,311.66 322.34,311.63 324.56,311.60 326.77,311.56 328.98,311.53 331.19,311.50 333.41,311.47 335.62,311.43 337.83,311.40 340.04,311.37 342.26,311.33 344.47,311.30 346.68,311.26 348.89,311.23 351.11,311.19 353.32,311.16 355.53,311.12 357.74,311.08 359.96,311.05 362.17,311.01 364.38,310.97 366.59,310.93 368.81,310.90 371.02,310.86 373.23,310.82 375.44,310.78 377.66,310.74 379.87,310.70 382.08,310.66 384.29,310.62 386.51,310.58 388.72,310.53 390.93,310.49 393.14,310.45 395.36,310.41 397.57,310.37 399.78,310.32 402.00,310.28 404.21,310.24 406.42,310.19 408.63,310.15 410.85,310.10 413.06,310.06 415.27,310.01 417.48,309.97 419.70,309.92 421.91,309.87 424.12,309.83 426.33,309.78 428.55,309.73 430.76,309.68 432.97,309.63 435.18,309.59 437.40,309.54 439.61,309.49 441.82,309.44 444.03,309.39 446.25,309.34 448.46,309.29 450.67,309.24 452.88,309.18 455.10,309.13 457.31,309.08 459.52,309.03 461.73,308.97 463.95,308.92 466.16,308.87 468.37,308.81 470.58,308.76 472.80,308.71 475.01,308.65 477.22,308.60 479.43,308.54 481.65,308.48 483.86,308.43 486.07,308.37 488.29,308.31 490.50,308.26 492.71,308.20 494.92,308.14 497.14,308.08 499.35,308.02 501.56,307.96 503.77,307.91 505.99,307.85 508.20,307.79 510.41,307.73 512.62,307.66 514.84,307.60 517.05,307.54 519.26,307.48 521.47,307.42 523.69,307.36 525.90,307.29 528.11,307.23 530.32,307.17 532.54,307.10 534.75,307.04 536.96,306.97 539.17,306.91 541.39,306.84 543.60,306.78 545.81,306.71 548.02,306.65 550.24,306.58 552.45,306.51 554.66,306.44 556.87,306.38 559.09,306.31 561.30,306.24 563.51,306.17 565.72,306.10 567.94,306.03 570.15,305.96" fill="none" stroke="#9867ad" stroke-width="1.5" stroke-opacity="0.74" stroke-linejoin="round" clip-path="url(#ca)"/>
<circle cx="173.88" cy="313.30" r="2.65" fill="none" stroke="#9867ad" stroke-width="1.35" stroke-opacity="0.74" clip-path="url(#ca)"/>
<circle cx="217.91" cy="313.21" r="2.65" fill="none" stroke="#9867ad" stroke-width="1.35" stroke-opacity="0.74" clip-path="url(#ca)"/>
<circle cx="261.94" cy="313.00" r="2.65" fill="none" stroke="#9867ad" stroke-width="1.35" stroke-opacity="0.74" clip-path="url(#ca)"/>
<circle cx="305.97" cy="312.71" r="2.65" fill="none" stroke="#9867ad" stroke-width="1.35" stroke-opacity="0.74" clip-path="url(#ca)"/>
<circle cx="350.00" cy="312.12" r="2.65" fill="none" stroke="#9867ad" stroke-width="1.35" stroke-opacity="0.74" clip-path="url(#ca)"/>
<circle cx="394.03" cy="311.52" r="2.65" fill="none" stroke="#9867ad" stroke-width="1.35" stroke-opacity="0.74" clip-path="url(#ca)"/>
<circle cx="438.06" cy="310.64" r="2.65" fill="none" stroke="#9867ad" stroke-width="1.35" stroke-opacity="0.74" clip-path="url(#ca)"/>
<circle cx="482.09" cy="309.45" r="2.65" fill="none" stroke="#9867ad" stroke-width="1.35" stroke-opacity="0.74" clip-path="url(#ca)"/>
<circle cx="526.12" cy="307.97" r="2.65" fill="none" stroke="#9867ad" stroke-width="1.35" stroke-opacity="0.74" clip-path="url(#ca)"/>
<circle cx="570.15" cy="306.20" r="2.65" fill="none" stroke="#9867ad" stroke-width="1.35" stroke-opacity="0.74" clip-path="url(#ca)"/>
<polyline points="129.85,312.89 132.06,312.88 134.28,312.88 136.49,312.88 138.70,312.88 140.91,312.88 143.13,312.87 145.34,312.87 147.55,312.87 149.76,312.86 151.98,312.86 154.19,312.85 156.40,312.85 158.61,312.84 160.83,312.84 163.04,312.83 165.25,312.82 167.46,312.82 169.68,312.81 171.89,312.80 174.10,312.80 176.31,312.79 178.53,312.78 180.74,312.77 182.95,312.76 185.16,312.75 187.38,312.74 189.59,312.73 191.80,312.72 194.01,312.71 196.23,312.70 198.44,312.69 200.65,312.68 202.86,312.67 205.08,312.65 207.29,312.64 209.50,312.63 211.71,312.61 213.93,312.60 216.14,312.59 218.35,312.57 220.57,312.56 222.78,312.54 224.99,312.53 227.20,312.51 229.42,312.50 231.63,312.48 233.84,312.46 236.05,312.45 238.27,312.43 240.48,312.41 242.69,312.39 244.90,312.37 247.12,312.36 249.33,312.34 251.54,312.32 253.75,312.30 255.97,312.28 258.18,312.26 260.39,312.24 262.60,312.21 264.82,312.19 267.03,312.17 269.24,312.15 271.45,312.13 273.67,312.10 275.88,312.08 278.09,312.06 280.30,312.03 282.52,312.01 284.73,311.99 286.94,311.96 289.15,311.94 291.37,311.91 293.58,311.88 295.79,311.86 298.00,311.83 300.22,311.81 302.43,311.78 304.64,311.75 306.86,311.72 309.07,311.70 311.28,311.67 313.49,311.64 315.71,311.61 317.92,311.58 320.13,311.55 322.34,311.52 324.56,311.49 326.77,311.46 328.98,311.43 331.19,311.40 333.41,311.36 335.62,311.33 337.83,311.30 340.04,311.27 342.26,311.23 344.47,311.20 346.68,311.17 348.89,311.13 351.11,311.10 353.32,311.06 355.53,311.03 357.74,310.99 359.96,310.96 362.17,310.92 364.38,310.88 366.59,310.85 368.81,310.81 371.02,310.77 373.23,310.73 375.44,310.70 377.66,310.66 379.87,310.62 382.08,310.58 384.29,310.54 386.51,310.50 388.72,310.46 390.93,310.42 393.14,310.38 395.36,310.34 397.57,310.30 399.78,310.26 402.00,310.21 404.21,310.17 406.42,310.13 408.63,310.08 410.85,310.04 413.06,310.00 415.27,309.95 417.48,309.91 419.70,309.86 421.91,309.82 424.12,309.77 426.33,309.73 428.55,309.68 430.76,309.63 432.97,309.59 435.18,309.54 437.40,309.49 439.61,309.45 441.82,309.40 444.03,309.35 446.25,309.30 448.46,309.25 450.67,309.20 452.88,309.15 455.10,309.10 457.31,309.05 459.52,309.00 461.73,308.95 463.95,308.90 466.16,308.84 468.37,308.79 470.58,308.74 472.80,308.69 475.01,308.63 477.22,308.58 479.43,308.53 481.65,308.47 483.86,308.42 486.07,308.36 488.29,308.31 490.50,308.25 492.71,308.20 494.92,308.14 497.14,308.08 499.35,308.03 501.56,307.97 503.77,307.91 505.99,307.85 508.20,307.80 510.41,307.74 512.62,307.68 514.84,307.62 517.05,307.56 519.26,307.50 521.47,307.44 523.69,307.38 525.90,307.32 528.11,307.26 530.32,307.20 532.54,307.13 534.75,307.07 536.96,307.01 539.17,306.95 541.39,306.88 543.60,306.82 545.81,306.75 548.02,306.69 550.24,306.63 552.45,306.56 554.66,306.50 556.87,306.43 559.09,306.36 561.30,306.30 563.51,306.23 565.72,306.16 567.94,306.10 570.15,306.03" fill="none" stroke="#9867ad" stroke-width="1.5" stroke-opacity="0.74" stroke-linejoin="round" stroke-dasharray="5.5,2.5" clip-path="url(#ca)"/>
<rect x="171.44" y="310.86" width="4.88" height="4.88" fill="none" stroke="#9867ad" stroke-width="1.35" stroke-opacity="0.74" clip-path="url(#ca)"/>
<rect x="215.47" y="310.77" width="4.88" height="4.88" fill="none" stroke="#9867ad" stroke-width="1.35" stroke-opacity="0.74" clip-path="url(#ca)"/>
<rect x="259.50" y="310.57" width="4.88" height="4.88" fill="none" stroke="#9867ad" stroke-width="1.35" stroke-opacity="0.74" clip-path="url(#ca)"/>
<rect x="303.53" y="310.27" width="4.88" height="4.88" fill="none" stroke="#9867ad" stroke-width="1.35" stroke-opacity="0.74" clip-path="url(#ca)"/>
<rect x="347.56" y="309.68" width="4.88" height="4.88" fill="none" stroke="#9867ad" stroke-width="1.35" stroke-opacity="0.74" clip-path="url(#ca)"/>
<rect x="391.59" y="309.09" width="4.88" height="4.88" fill="none" stroke="#9867ad" stroke-width="1.35" stroke-opacity="0.74" clip-path="url(#ca)"/>
<rect x="435.62" y="308.20" width="4.88" height="4.88" fill="none" stroke="#9867ad" stroke-width="1.35" stroke-opacity="0.74" clip-path="url(#ca)"/>
<rect x="479.65" y="307.01" width="4.88" height="4.88" fill="none" stroke="#9867ad" stroke-width="1.35" stroke-opacity="0.74" clip-path="url(#ca)"/>
<rect x="523.68" y="305.53" width="4.88" height="4.88" fill="none" stroke="#9867ad" stroke-width="1.35" stroke-opacity="0.74" clip-path="url(#ca)"/>
<rect x="567.71" y="303.76" width="4.88" height="4.88" fill="none" stroke="#9867ad" stroke-width="1.35" stroke-opacity="0.74" clip-path="url(#ca)"/>
<rect x="129.6" y="2.5" width="460.79999999999995" height="310.8" fill="none" stroke="#444" stroke-width="0.9"/>
<line x1="129.85" y1="313.3" x2="129.85" y2="315.8" stroke="#222" stroke-width="0.9"/>
<text x="130.10" y="328.48" font-size="10.5" text-anchor="middle" font-weight="normal" fill="#000" stroke="#000" stroke-width="0.15">0</text>
<line x1="181.65" y1="313.3" x2="181.65" y2="315.8" stroke="#222" stroke-width="0.9"/>
<text x="181.90" y="328.48" font-size="10.5" text-anchor="middle" font-weight="normal" fill="#000" stroke="#000" stroke-width="0.15">1</text>
<line x1="233.45" y1="313.3" x2="233.45" y2="315.8" stroke="#222" stroke-width="0.9"/>
<text x="233.70" y="328.48" font-size="10.5" text-anchor="middle" font-weight="normal" fill="#000" stroke="#000" stroke-width="0.15">2</text>
<line x1="285.25" y1="313.3" x2="285.25" y2="315.8" stroke="#222" stroke-width="0.9"/>
<text x="285.50" y="328.48" font-size="10.5" text-anchor="middle" font-weight="normal" fill="#000" stroke="#000" stroke-width="0.15">3</text>
<line x1="337.05" y1="313.3" x2="337.05" y2="315.8" stroke="#222" stroke-width="0.9"/>
<text x="337.30" y="328.48" font-size="10.5" text-anchor="middle" font-weight="normal" fill="#000" stroke="#000" stroke-width="0.15">4</text>
<line x1="388.85" y1="313.3" x2="388.85" y2="315.8" stroke="#222" stroke-width="0.9"/>
<text x="389.10" y="328.48" font-size="10.5" text-anchor="middle" font-weight="normal" fill="#000" stroke="#000" stroke-width="0.15">5</text>
<line x1="440.65" y1="313.3" x2="440.65" y2="315.8" stroke="#222" stroke-width="0.9"/>
<text x="440.90" y="328.48" font-size="10.5" text-anchor="middle" font-weight="normal" fill="#000" stroke="#000" stroke-width="0.15">6</text>
<line x1="492.45" y1="313.3" x2="492.45" y2="315.8" stroke="#222" stroke-width="0.9"/>
<text x="492.70" y="328.48" font-size="10.5" text-anchor="middle" font-weight="normal" fill="#000" stroke="#000" stroke-width="0.15">7</text>
<line x1="544.25" y1="313.3" x2="544.25" y2="315.8" stroke="#222" stroke-width="0.9"/>
<text x="544.50" y="328.48" font-size="10.5" text-anchor="middle" font-weight="normal" fill="#000" stroke="#000" stroke-width="0.15">8</text>
<line x1="127.1" y1="313.30" x2="129.6" y2="313.30" stroke="#222" stroke-width="0.9"/>
<text x="122.50" y="317.58" font-size="10.5" text-anchor="end" font-weight="normal" fill="#000" stroke="#000" stroke-width="0.15">0</text>
<line x1="127.1" y1="254.10" x2="129.6" y2="254.10" stroke="#222" stroke-width="0.9"/>
<text x="122.50" y="258.38" font-size="10.5" text-anchor="end" font-weight="normal" fill="#000" stroke="#000" stroke-width="0.15">2</text>
<line x1="127.1" y1="194.90" x2="129.6" y2="194.90" stroke="#222" stroke-width="0.9"/>
<text x="122.50" y="199.18" font-size="10.5" text-anchor="end" font-weight="normal" fill="#000" stroke="#000" stroke-width="0.15">4</text>
<line x1="127.1" y1="135.70" x2="129.6" y2="135.70" stroke="#222" stroke-width="0.9"/>
<text x="122.50" y="139.98" font-size="10.5" text-anchor="end" font-weight="normal" fill="#000" stroke="#000" stroke-width="0.15">6</text>
<line x1="127.1" y1="76.50" x2="129.6" y2="76.50" stroke="#222" stroke-width="0.9"/>
<text x="122.50" y="80.78" font-size="10.5" text-anchor="end" font-weight="normal" fill="#000" stroke="#000" stroke-width="0.15">8</text>
<line x1="127.1" y1="17.30" x2="129.6" y2="17.30" stroke="#222" stroke-width="0.9"/>
<text x="122.50" y="21.58" font-size="10.5" text-anchor="end" font-weight="normal" fill="#000" stroke="#000" stroke-width="0.15">10</text>
<text x="360.70" y="341.80" font-size="10.4" text-anchor="middle" font-weight="normal" fill="#000" stroke="#000" stroke-width="0.15">Cantilever amplitude (nm)</text>
<text x="103.20" y="157.40" font-size="10.45" text-anchor="middle" font-weight="normal" fill="#000" stroke="#000" stroke-width="0.15" transform="rotate(-90 103.20 157.40)">Sideband signal power (pW)</text>
<text x="93.00" y="9.00" font-size="15.5" text-anchor="start" font-weight="bold" fill="#000">a</text>
<rect x="203.2" y="9.6" width="382.3" height="14.3" rx="2" fill="#fff" fill-opacity="0.85" stroke="#e0e0e0" stroke-width="0.8"/>
<line x1="204.8" y1="16.6" x2="225.3" y2="16.6" stroke="#1d6fa0" stroke-width="4.4"/>
<text x="230.80" y="20.00" font-size="10.2" text-anchor="start" font-weight="normal" fill="#000" stroke="#000" stroke-width="0.15">B1</text>
<line x1="255.9" y1="16.6" x2="276.4" y2="16.6" stroke="#f27e2c" stroke-width="4.4"/>
<text x="281.90" y="20.00" font-size="10.2" text-anchor="start" font-weight="normal" fill="#000" stroke="#000" stroke-width="0.15">T1</text>
<line x1="306.8" y1="16.6" x2="327.3" y2="16.6" stroke="#9bc446" stroke-width="4.4"/>
<text x="332.80" y="20.00" font-size="10.2" text-anchor="start" font-weight="normal" fill="#000" stroke="#000" stroke-width="0.15">B2</text>
<line x1="358.0" y1="16.6" x2="378.5" y2="16.6" stroke="#e4262a" stroke-width="4.4"/>
<text x="384.00" y="20.00" font-size="10.2" text-anchor="start" font-weight="normal" fill="#000" stroke="#000" stroke-width="0.15">B3</text>
<line x1="409.0" y1="16.6" x2="429.5" y2="16.6" stroke="#9867ad" stroke-width="4.4"/>
<text x="432.00" y="20.00" font-size="10.2" text-anchor="start" font-weight="normal" fill="#000" stroke="#000" stroke-width="0.15">T2</text>
<line x1="461" y1="16.4" x2="479" y2="16.4" stroke="#000" stroke-width="1.4"/><circle cx="470" cy="16.4" r="2.7" fill="#fff" stroke="#000" stroke-width="1.3"/>
<text x="484.40" y="20.00" font-size="10.2" text-anchor="start" font-weight="normal" fill="#000" stroke="#000" stroke-width="0.15">red sb</text>
<line x1="528" y1="16.4" x2="545" y2="16.4" stroke="#000" stroke-width="1.4" stroke-dasharray="4,2"/><rect x="533.6" y="13.6" width="5.6" height="5.6" fill="#fff" stroke="#000" stroke-width="1.3"/>
<text x="548.80" y="20.00" font-size="10.2" text-anchor="start" font-weight="normal" fill="#000" stroke="#000" stroke-width="0.15">blue sb</text>
<rect x="396.8" y="144.4" width="180.8" height="119.6" fill="#fff"/>
<line x1="436.80" y1="144.4" x2="436.80" y2="264.0" stroke="#dadada" stroke-width="0.9" stroke-dasharray="1.05,1.0"/>
<line x1="476.80" y1="144.4" x2="476.80" y2="264.0" stroke="#dadada" stroke-width="0.9" stroke-dasharray="1.05,1.0"/>
<line x1="516.80" y1="144.4" x2="516.80" y2="264.0" stroke="#dadada" stroke-width="0.9" stroke-dasharray="1.05,1.0"/>
<line x1="556.80" y1="144.4" x2="556.80" y2="264.0" stroke="#dadada" stroke-width="0.9" stroke-dasharray="1.05,1.0"/>
<line x1="396.8" y1="229.83" x2="577.6" y2="229.83" stroke="#dadada" stroke-width="0.9" stroke-dasharray="1.05,1.0"/>
<line x1="396.8" y1="195.66" x2="577.6" y2="195.66" stroke="#dadada" stroke-width="0.9" stroke-dasharray="1.05,1.0"/>
<line x1="396.8" y1="161.49" x2="577.6" y2="161.49" stroke="#dadada" stroke-width="0.9" stroke-dasharray="1.05,1.0"/>
<polyline points="396.80,262.97 401.00,262.95 405.20,262.91 409.40,262.86 413.60,262.79 417.81,262.70 422.01,262.60 426.21,262.48 430.41,262.34 434.61,262.19 438.81,262.02 443.01,261.84 447.21,261.64 451.41,261.42 455.61,261.19 459.82,260.94 464.02,260.68 468.22,260.39 472.42,260.10 476.62,259.78 480.82,259.45 485.02,259.11 489.22,258.75 493.42,258.37 497.62,257.97 501.83,257.56 506.03,257.14 510.23,256.69 514.43,256.23 518.63,255.76 522.83,255.27 527.03,254.76 531.23,254.24 535.43,253.70 539.63,253.14 543.84,252.57 548.04,251.98 552.24,251.38 556.44,250.75 560.64,250.12 564.84,249.46 569.04,248.80 573.24,248.11 577.44,247.41 581.64,246.69 585.85,245.96 590.05,245.21 594.25,244.44 598.45,243.66 602.65,242.86 606.85,242.04 611.05,241.21 615.25,240.37 619.45,239.50 623.65,238.62 627.86,237.73 632.06,236.82 636.26,235.89 640.46,234.94 644.66,233.98 648.86,233.01 653.06,232.02 657.26,231.01 661.46,229.98 665.66,228.94 669.87,227.88 674.07,226.81 678.27,225.72 682.47,224.61 686.67,223.49 690.87,222.35 695.07,221.20 699.27,220.03 703.47,218.84 707.67,217.64 711.88,216.42 716.08,215.19 720.28,213.93 724.48,212.67 728.68,211.38 732.88,210.08 737.08,208.77 741.28,207.43 745.48,206.09 749.68,204.72 753.89,203.34 758.09,201.94 762.29,200.53 766.49,199.10 770.69,197.66 774.89,196.19 779.09,194.72 783.29,193.22 787.49,191.71 791.69,190.19 795.90,188.64 800.10,187.09 804.30,185.51 808.50,183.92 812.70,182.31 816.90,180.69 821.10,179.05 825.30,177.39 829.50,175.72 833.70,174.04 837.91,172.33 842.11,170.61 846.31,168.87 850.51,167.12 854.71,165.35 858.91,163.57 863.11,161.77 867.31,159.95 871.51,158.12 875.71,156.27 879.92,154.40 884.12,152.52 888.32,150.62 892.52,148.71 896.72,146.78 900.92,144.83 905.12,142.87 909.32,140.89 913.52,138.89 917.72,136.88 921.93,134.85 926.13,132.81 930.33,130.75 934.53,128.67 938.73,126.58 942.93,124.47 947.13,122.35 951.33,120.21 955.53,118.05 959.73,115.88 963.94,113.69 968.14,111.48 972.34,109.26 976.54,107.02 980.74,104.77 984.94,102.50 989.14,100.21 993.34,97.91 997.54,95.59 1001.74,93.26 1005.95,90.91 1010.15,88.54 1014.35,86.16 1018.55,83.76 1022.75,81.34 1026.95,78.91 1031.15,76.46 1035.35,74.00 1039.55,71.52 1043.75,69.02 1047.96,66.51 1052.16,63.98 1056.36,61.44 1060.56,58.87 1064.76,56.30 1068.96,53.70 1073.16,51.09 1077.36,48.47 1081.56,45.83 1085.76,43.17 1089.97,40.49 1094.17,37.80 1098.37,35.10 1102.57,32.37 1106.77,29.63 1110.97,26.88 1115.17,24.11 1119.37,21.32 1123.57,18.52 1127.77,15.70 1131.98,12.86 1136.18,10.01 1140.38,7.14 1144.58,4.26 1148.78,1.36 1152.98,-1.56 1157.18,-4.49 1161.38,-7.44 1165.58,-10.41 1169.78,-13.39 1173.99,-16.39 1178.19,-19.40 1182.39,-22.43 1186.59,-25.48 1190.79,-28.54 1194.99,-31.62 1199.19,-34.71 1203.39,-37.82 1207.59,-40.95 1211.79,-44.09 1216.00,-47.25 1220.20,-50.43 1224.40,-53.62 1228.60,-56.83 1232.80,-60.05" fill="none" stroke="#1d6fa0" stroke-width="1.5" stroke-opacity="0.74" stroke-linejoin="round" clip-path="url(#cai)"/>
<circle cx="436.80" cy="262.29" r="2.40" fill="none" stroke="#1d6fa0" stroke-width="1.45" stroke-opacity="0.74" clip-path="url(#cai)"/>
<circle cx="480.80" cy="261.61" r="2.40" fill="none" stroke="#1d6fa0" stroke-width="1.45" stroke-opacity="0.74" clip-path="url(#cai)"/>
<circle cx="564.80" cy="250.67" r="2.40" fill="none" stroke="#1d6fa0" stroke-width="1.45" stroke-opacity="0.74" clip-path="url(#cai)"/>
<circle cx="648.80" cy="233.25" r="2.40" fill="none" stroke="#1d6fa0" stroke-width="1.45" stroke-opacity="0.74" clip-path="url(#cai)"/>
<circle cx="732.80" cy="205.91" r="2.40" fill="none" stroke="#1d6fa0" stroke-width="1.45" stroke-opacity="0.74" clip-path="url(#cai)"/>
<circle cx="816.80" cy="175.15" r="2.40" fill="none" stroke="#1d6fa0" stroke-width="1.45" stroke-opacity="0.74" clip-path="url(#cai)"/>
<circle cx="900.80" cy="137.57" r="2.40" fill="none" stroke="#1d6fa0" stroke-width="1.45" stroke-opacity="0.74" clip-path="url(#cai)"/>
<circle cx="984.80" cy="99.98" r="2.40" fill="none" stroke="#1d6fa0" stroke-width="1.45" stroke-opacity="0.74" clip-path="url(#cai)"/>
<circle cx="1064.80" cy="48.72" r="2.40" fill="none" stroke="#1d6fa0" stroke-width="1.45" stroke-opacity="0.74" clip-path="url(#cai)"/>
<circle cx="1152.80" cy="-2.54" r="2.40" fill="none" stroke="#1d6fa0" stroke-width="1.45" stroke-opacity="0.74" clip-path="url(#cai)"/>
<circle cx="1232.80" cy="-60.63" r="2.40" fill="none" stroke="#1d6fa0" stroke-width="1.45" stroke-opacity="0.74" clip-path="url(#cai)"/>
<polyline points="396.80,266.22 401.00,265.92 405.20,265.61 409.40,265.29 413.60,264.96 417.81,264.62 422.01,264.27 426.21,263.91 430.41,263.55 434.61,263.17 438.81,262.78 443.01,262.39 447.21,261.99 451.41,261.57 455.61,261.15 459.82,260.72 464.02,260.28 468.22,259.83 472.42,259.38 476.62,258.91 480.82,258.43 485.02,257.95 489.22,257.45 493.42,256.95 497.62,256.43 501.83,255.91 506.03,255.38 510.23,254.84 514.43,254.29 518.63,253.73 522.83,253.16 527.03,252.59 531.23,252.00 535.43,251.40 539.63,250.80 543.84,250.19 548.04,249.56 552.24,248.93 556.44,248.29 560.64,247.64 564.84,246.98 569.04,246.31 573.24,245.63 577.44,244.94 581.64,244.25 585.85,243.54 590.05,242.83 594.25,242.10 598.45,241.37 602.65,240.63 606.85,239.88 611.05,239.12 615.25,238.35 619.45,237.57 623.65,236.78 627.86,235.98 632.06,235.18 636.26,234.36 640.46,233.54 644.66,232.70 648.86,231.86 653.06,231.01 657.26,230.15 661.46,229.28 665.66,228.40 669.87,227.51 674.07,226.61 678.27,225.71 682.47,224.79 686.67,223.86 690.87,222.93 695.07,221.99 699.27,221.03 703.47,220.07 707.67,219.10 711.88,218.12 716.08,217.13 720.28,216.13 724.48,215.12 728.68,214.11 732.88,213.08 737.08,212.05 741.28,211.00 745.48,209.95 749.68,208.89 753.89,207.81 758.09,206.73 762.29,205.64 766.49,204.54 770.69,203.44 774.89,202.32 779.09,201.19 783.29,200.06 787.49,198.91 791.69,197.76 795.90,196.59 800.10,195.42 804.30,194.24 808.50,193.05 812.70,191.85 816.90,190.64 821.10,189.42 825.30,188.19 829.50,186.96 833.70,185.71 837.91,184.45 842.11,183.19 846.31,181.92 850.51,180.63 854.71,179.34 858.91,178.04 863.11,176.73 867.31,175.41 871.51,174.08 875.71,172.75 879.92,171.40 884.12,170.04 888.32,168.68 892.52,167.31 896.72,165.92 900.92,164.53 905.12,163.13 909.32,161.72 913.52,160.30 917.72,158.87 921.93,157.43 926.13,155.98 930.33,154.53 934.53,153.06 938.73,151.59 942.93,150.10 947.13,148.61 951.33,147.11 955.53,145.60 959.73,144.07 963.94,142.55 968.14,141.01 972.34,139.46 976.54,137.90 980.74,136.33 984.94,134.76 989.14,133.17 993.34,131.58 997.54,129.98 1001.74,128.36 1005.95,126.74 1010.15,125.11 1014.35,123.47 1018.55,121.82 1022.75,120.17 1026.95,118.50 1031.15,116.82 1035.35,115.14 1039.55,113.44 1043.75,111.74 1047.96,110.03 1052.16,108.30 1056.36,106.57 1060.56,104.83 1064.76,103.08 1068.96,101.32 1073.16,99.56 1077.36,97.78 1081.56,95.99 1085.76,94.20 1089.97,92.39 1094.17,90.58 1098.37,88.76 1102.57,86.92 1106.77,85.08 1110.97,83.23 1115.17,81.37 1119.37,79.50 1123.57,77.63 1127.77,75.74 1131.98,73.84 1136.18,71.94 1140.38,70.02 1144.58,68.10 1148.78,66.17 1152.98,64.23 1157.18,62.27 1161.38,60.31 1165.58,58.34 1169.78,56.37 1173.99,54.38 1178.19,52.38 1182.39,50.38 1186.59,48.36 1190.79,46.34 1194.99,44.30 1199.19,42.26 1203.39,40.21 1207.59,38.15 1211.79,36.08 1216.00,34.00 1220.20,31.91 1224.40,29.81 1228.60,27.70 1232.80,25.59" fill="none" stroke="#1d6fa0" stroke-width="1.5" stroke-opacity="0.74" stroke-linejoin="round" stroke-dasharray="5.5,2.5" clip-path="url(#cai)"/>
<rect x="434.59" y="260.08" width="4.42" height="4.42" fill="none" stroke="#1d6fa0" stroke-width="1.45" stroke-opacity="0.74" clip-path="url(#cai)"/>
<rect x="478.59" y="259.40" width="4.42" height="4.42" fill="none" stroke="#1d6fa0" stroke-width="1.45" stroke-opacity="0.74" clip-path="url(#cai)"/>
<rect x="562.59" y="248.47" width="4.42" height="4.42" fill="none" stroke="#1d6fa0" stroke-width="1.45" stroke-opacity="0.74" clip-path="url(#cai)"/>
<rect x="646.59" y="231.04" width="4.42" height="4.42" fill="none" stroke="#1d6fa0" stroke-width="1.45" stroke-opacity="0.74" clip-path="url(#cai)"/>
<rect x="730.59" y="210.53" width="4.42" height="4.42" fill="none" stroke="#1d6fa0" stroke-width="1.45" stroke-opacity="0.74" clip-path="url(#cai)"/>
<rect x="814.59" y="183.20" width="4.42" height="4.42" fill="none" stroke="#1d6fa0" stroke-width="1.45" stroke-opacity="0.74" clip-path="url(#cai)"/>
<rect x="898.59" y="159.28" width="4.42" height="4.42" fill="none" stroke="#1d6fa0" stroke-width="1.45" stroke-opacity="0.74" clip-path="url(#cai)"/>
<rect x="982.59" y="128.52" width="4.42" height="4.42" fill="none" stroke="#1d6fa0" stroke-width="1.45" stroke-opacity="0.74" clip-path="url(#cai)"/>
<rect x="1062.59" y="97.77" width="4.42" height="4.42" fill="none" stroke="#1d6fa0" stroke-width="1.45" stroke-opacity="0.74" clip-path="url(#cai)"/>
<rect x="1150.59" y="67.01" width="4.42" height="4.42" fill="none" stroke="#1d6fa0" stroke-width="1.45" stroke-opacity="0.74" clip-path="url(#cai)"/>
<rect x="1230.59" y="22.59" width="4.42" height="4.42" fill="none" stroke="#1d6fa0" stroke-width="1.45" stroke-opacity="0.74" clip-path="url(#cai)"/>
<polyline points="396.80,264.30 397.37,264.25 397.95,264.20 398.52,264.14 399.10,264.09 399.67,264.03 400.25,263.97 400.82,263.90 401.40,263.84 401.97,263.77 402.55,263.69 403.12,263.62 403.70,263.54 404.27,263.46 404.85,263.38 405.42,263.29 406.00,263.20 406.57,263.11 407.15,263.02 407.72,262.92 408.30,262.82 408.87,262.72 409.45,262.62 410.02,262.51 410.60,262.40 411.17,262.29 411.75,262.17 412.32,262.05 412.90,261.93 413.47,261.81 414.05,261.68 414.62,261.55 415.20,261.42 415.77,261.29 416.35,261.15 416.92,261.01 417.50,260.87 418.07,260.72 418.65,260.58 419.22,260.43 419.79,260.27 420.37,260.12 420.94,259.96 421.52,259.80 422.09,259.63 422.67,259.47 423.24,259.30 423.82,259.13 424.39,258.95 424.97,258.77 425.54,258.59 426.12,258.41 426.69,258.23 427.27,258.04 427.84,257.85 428.42,257.65 428.99,257.46 429.57,257.26 430.14,257.06 430.72,256.85 431.29,256.65 431.87,256.44 432.44,256.22 433.02,256.01 433.59,255.79 434.17,255.57 434.74,255.35 435.32,255.12 435.89,254.89 436.47,254.66 437.04,254.43 437.62,254.19 438.19,253.95 438.77,253.71 439.34,253.47 439.92,253.22 440.49,252.97 441.07,252.72 441.64,252.46 442.22,252.20 442.79,251.94 443.36,251.68 443.94,251.41 444.51,251.14 445.09,250.87 445.66,250.60 446.24,250.32 446.81,250.04 447.39,249.76 447.96,249.47 448.54,249.19 449.11,248.89 449.69,248.60 450.26,248.31 450.84,248.01 451.41,247.71 451.99,247.40 452.56,247.10 453.14,246.79 453.71,246.47 454.29,246.16 454.86,245.84 455.44,245.52 456.01,245.20 456.59,244.87 457.16,244.55 457.74,244.21 458.31,243.88 458.89,243.54 459.46,243.21 460.04,242.86 460.61,242.52 461.19,242.17 461.76,241.82 462.34,241.47 462.91,241.12 463.49,240.76 464.06,240.40 464.64,240.03 465.21,239.67 465.78,239.30 466.36,238.93 466.93,238.55 467.51,238.18 468.08,237.80 468.66,237.42 469.23,237.03 469.81,236.64 470.38,236.25 470.96,235.86 471.53,235.47 472.11,235.07 472.68,234.67 473.26,234.26 473.83,233.86 474.41,233.45 474.98,233.04 475.56,232.62 476.13,232.20 476.71,231.78 477.28,231.36 477.86,230.94 478.43,230.51 479.01,230.08 479.58,229.64 480.16,229.21 480.73,228.77 481.31,228.33 481.88,227.88 482.46,227.44 483.03,226.99 483.61,226.54 484.18,226.08 484.76,225.62 485.33,225.16 485.91,224.70 486.48,224.24 487.06,223.77 487.63,223.30 488.21,222.82 488.78,222.35 489.35,221.87 489.93,221.39 490.50,220.90 491.08,220.41 491.65,219.92 492.23,219.43 492.80,218.94 493.38,218.44 493.95,217.94 494.53,217.43 495.10,216.93 495.68,216.42 496.25,215.91 496.83,215.39 497.40,214.88 497.98,214.36 498.55,213.84 499.13,213.31 499.70,212.78 500.28,212.25 500.85,211.72 501.43,211.18 502.00,210.65 502.58,210.11 503.15,209.56 503.73,209.02 504.30,208.47 504.88,207.91 505.45,207.36 506.03,206.80 506.60,206.24 507.18,205.68 507.75,205.12 508.33,204.55 508.90,203.98 509.48,203.40 510.05,202.83 510.63,202.25 511.20,201.67" fill="none" stroke="#f27e2c" stroke-width="1.5" stroke-opacity="0.74" stroke-linejoin="round" clip-path="url(#cai)"/>
<circle cx="400.40" cy="262.97" r="2.40" fill="none" stroke="#f27e2c" stroke-width="1.45" stroke-opacity="0.74" clip-path="url(#cai)"/>
<circle cx="410.00" cy="262.63" r="2.40" fill="none" stroke="#f27e2c" stroke-width="1.45" stroke-opacity="0.74" clip-path="url(#cai)"/>
<circle cx="420.80" cy="261.61" r="2.40" fill="none" stroke="#f27e2c" stroke-width="1.45" stroke-opacity="0.74" clip-path="url(#cai)"/>
<circle cx="432.00" cy="256.14" r="2.40" fill="none" stroke="#f27e2c" stroke-width="1.45" stroke-opacity="0.74" clip-path="url(#cai)"/>
<circle cx="443.20" cy="250.67" r="2.40" fill="none" stroke="#f27e2c" stroke-width="1.45" stroke-opacity="0.74" clip-path="url(#cai)"/>
<circle cx="454.40" cy="247.94" r="2.40" fill="none" stroke="#f27e2c" stroke-width="1.45" stroke-opacity="0.74" clip-path="url(#cai)"/>
<circle cx="465.60" cy="239.40" r="2.40" fill="none" stroke="#f27e2c" stroke-width="1.45" stroke-opacity="0.74" clip-path="url(#cai)"/>
<circle cx="477.20" cy="230.17" r="2.40" fill="none" stroke="#f27e2c" stroke-width="1.45" stroke-opacity="0.74" clip-path="url(#cai)"/>
<circle cx="488.00" cy="222.65" r="2.40" fill="none" stroke="#f27e2c" stroke-width="1.45" stroke-opacity="0.74" clip-path="url(#cai)"/>
<circle cx="499.60" cy="212.06" r="2.40" fill="none" stroke="#f27e2c" stroke-width="1.45" stroke-opacity="0.74" clip-path="url(#cai)"/>
<circle cx="511.20" cy="202.83" r="2.40" fill="none" stroke="#f27e2c" stroke-width="1.45" stroke-opacity="0.74" clip-path="url(#cai)"/>
<polyline points="396.80,265.89 397.37,265.75 397.95,265.60 398.52,265.45 399.10,265.30 399.67,265.15 400.25,265.00 400.82,264.84 401.40,264.69 401.97,264.53 402.55,264.38 403.12,264.22 403.70,264.06 404.27,263.90 404.85,263.73 405.42,263.57 406.00,263.41 406.57,263.24 407.15,263.07 407.72,262.90 408.30,262.74 408.87,262.56 409.45,262.39 410.02,262.22 410.60,262.04 411.17,261.87 411.75,261.69 412.32,261.51 412.90,261.33 413.47,261.15 414.05,260.97 414.62,260.79 415.20,260.60 415.77,260.42 416.35,260.23 416.92,260.04 417.50,259.85 418.07,259.66 418.65,259.47 419.22,259.28 419.79,259.08 420.37,258.88 420.94,258.69 421.52,258.49 422.09,258.29 422.67,258.09 423.24,257.89 423.82,257.68 424.39,257.48 424.97,257.27 425.54,257.07 426.12,256.86 426.69,256.65 427.27,256.44 427.84,256.23 428.42,256.01 428.99,255.80 429.57,255.58 430.14,255.37 430.72,255.15 431.29,254.93 431.87,254.71 432.44,254.49 433.02,254.26 433.59,254.04 434.17,253.81 434.74,253.59 435.32,253.36 435.89,253.13 436.47,252.90 437.04,252.67 437.62,252.43 438.19,252.20 438.77,251.96 439.34,251.73 439.92,251.49 440.49,251.25 441.07,251.01 441.64,250.77 442.22,250.52 442.79,250.28 443.36,250.03 443.94,249.79 444.51,249.54 445.09,249.29 445.66,249.04 446.24,248.79 446.81,248.53 447.39,248.28 447.96,248.02 448.54,247.77 449.11,247.51 449.69,247.25 450.26,246.99 450.84,246.73 451.41,246.47 451.99,246.20 452.56,245.94 453.14,245.67 453.71,245.40 454.29,245.13 454.86,244.86 455.44,244.59 456.01,244.32 456.59,244.04 457.16,243.77 457.74,243.49 458.31,243.21 458.89,242.93 459.46,242.65 460.04,242.37 460.61,242.09 461.19,241.80 461.76,241.52 462.34,241.23 462.91,240.94 463.49,240.66 464.06,240.36 464.64,240.07 465.21,239.78 465.78,239.49 466.36,239.19 466.93,238.89 467.51,238.60 468.08,238.30 468.66,238.00 469.23,237.70 469.81,237.39 470.38,237.09 470.96,236.78 471.53,236.48 472.11,236.17 472.68,235.86 473.26,235.55 473.83,235.24 474.41,234.93 474.98,234.61 475.56,234.30 476.13,233.98 476.71,233.66 477.28,233.34 477.86,233.02 478.43,232.70 479.01,232.38 479.58,232.05 480.16,231.73 480.73,231.40 481.31,231.08 481.88,230.75 482.46,230.42 483.03,230.08 483.61,229.75 484.18,229.42 484.76,229.08 485.33,228.75 485.91,228.41 486.48,228.07 487.06,227.73 487.63,227.39 488.21,227.05 488.78,226.70 489.35,226.36 489.93,226.01 490.50,225.66 491.08,225.31 491.65,224.96 492.23,224.61 492.80,224.26 493.38,223.91 493.95,223.55 494.53,223.20 495.10,222.84 495.68,222.48 496.25,222.12 496.83,221.76 497.40,221.40 497.98,221.03 498.55,220.67 499.13,220.30 499.70,219.93 500.28,219.56 500.85,219.19 501.43,218.82 502.00,218.45 502.58,218.08 503.15,217.70 503.73,217.33 504.30,216.95 504.88,216.57 505.45,216.19 506.03,215.81 506.60,215.43 507.18,215.04 507.75,214.66 508.33,214.27 508.90,213.88 509.48,213.49 510.05,213.10 510.63,212.71 511.20,212.32" fill="none" stroke="#f27e2c" stroke-width="1.5" stroke-opacity="0.74" stroke-linejoin="round" stroke-dasharray="5.5,2.5" clip-path="url(#cai)"/>
<rect x="398.19" y="260.77" width="4.42" height="4.42" fill="none" stroke="#f27e2c" stroke-width="1.45" stroke-opacity="0.74" clip-path="url(#cai)"/>
<rect x="407.79" y="260.43" width="4.42" height="4.42" fill="none" stroke="#f27e2c" stroke-width="1.45" stroke-opacity="0.74" clip-path="url(#cai)"/>
<rect x="418.59" y="260.08" width="4.42" height="4.42" fill="none" stroke="#f27e2c" stroke-width="1.45" stroke-opacity="0.74" clip-path="url(#cai)"/>
<rect x="429.79" y="253.59" width="4.42" height="4.42" fill="none" stroke="#f27e2c" stroke-width="1.45" stroke-opacity="0.74" clip-path="url(#cai)"/>
<rect x="440.99" y="246.41" width="4.42" height="4.42" fill="none" stroke="#f27e2c" stroke-width="1.45" stroke-opacity="0.74" clip-path="url(#cai)"/>
<rect x="452.19" y="239.92" width="4.42" height="4.42" fill="none" stroke="#f27e2c" stroke-width="1.45" stroke-opacity="0.74" clip-path="url(#cai)"/>
<rect x="463.39" y="237.19" width="4.42" height="4.42" fill="none" stroke="#f27e2c" stroke-width="1.45" stroke-opacity="0.74" clip-path="url(#cai)"/>
<rect x="474.99" y="232.06" width="4.42" height="4.42" fill="none" stroke="#f27e2c" stroke-width="1.45" stroke-opacity="0.74" clip-path="url(#cai)"/>
<rect x="485.79" y="223.18" width="4.42" height="4.42" fill="none" stroke="#f27e2c" stroke-width="1.45" stroke-opacity="0.74" clip-path="url(#cai)"/>
<rect x="497.39" y="222.49" width="4.42" height="4.42" fill="none" stroke="#f27e2c" stroke-width="1.45" stroke-opacity="0.74" clip-path="url(#cai)"/>
<rect x="508.99" y="207.80" width="4.42" height="4.42" fill="none" stroke="#f27e2c" stroke-width="1.45" stroke-opacity="0.74" clip-path="url(#cai)"/>
<polyline points="396.80,328.50 403.11,312.44 409.42,296.44 415.73,280.49 422.05,264.59 428.36,248.73 434.67,232.93 440.98,217.18 447.29,201.47 453.60,185.82 459.92,170.21 466.23,154.66 472.54,139.15 478.85,123.69 485.16,108.29 491.47,92.93 497.78,77.62 504.10,62.36 510.41,47.16 516.72,32.00 523.03,16.89 529.34,1.83 535.65,-13.18 541.97,-28.14 548.28,-43.05 554.59,-57.92 560.90,-72.73 567.21,-87.49 573.52,-102.20 579.84,-116.87 586.15,-131.48 592.46,-146.04 598.77,-160.56 605.08,-175.02 611.39,-189.44 617.70,-203.80 624.02,-218.12 630.33,-232.38 636.64,-246.60 642.95,-260.77 649.26,-274.89 655.57,-288.95 661.89,-302.97 668.20,-316.94 674.51,-330.86 680.82,-344.73 687.13,-358.55 693.44,-372.32 699.75,-386.04 706.07,-399.71 712.38,-413.33 718.69,-426.91 725.00,-440.43 731.31,-453.90 737.62,-467.33 743.94,-480.70 750.25,-494.02 756.56,-507.30 762.87,-520.52 769.18,-533.70 775.49,-546.82 781.81,-559.90 788.12,-572.93 794.43,-585.90 800.74,-598.83 807.05,-611.71 813.36,-624.54 819.67,-637.32 825.99,-650.04 832.30,-662.72 838.61,-675.35 844.92,-687.93 851.23,-700.47 857.54,-712.95 863.86,-725.38 870.17,-737.76 876.48,-750.09 882.79,-762.38 889.10,-774.61 895.41,-786.79 901.72,-798.93 908.04,-811.01 914.35,-823.05 920.66,-835.03 926.97,-846.97 933.28,-858.85 939.59,-870.69 945.91,-882.48 952.22,-894.21 958.53,-905.90 964.84,-917.54 971.15,-929.13 977.46,-940.67 983.77,-952.16 990.09,-963.60 996.40,-974.99 1002.71,-986.33 1009.02,-997.62 1015.33,-1008.86 1021.64,-1020.05 1027.96,-1031.19 1034.27,-1042.29 1040.58,-1053.33 1046.89,-1064.32 1053.20,-1075.27 1059.51,-1086.16 1065.83,-1097.01 1072.14,-1107.80 1078.45,-1118.55 1084.76,-1129.24 1091.07,-1139.89 1097.38,-1150.48 1103.69,-1161.03 1110.01,-1171.53 1116.32,-1181.98 1122.63,-1192.38 1128.94,-1202.72 1135.25,-1213.02 1141.56,-1223.27 1147.88,-1233.47 1154.19,-1243.62 1160.50,-1253.73 1166.81,-1263.78 1173.12,-1273.78 1179.43,-1283.73 1185.74,-1293.63 1192.06,-1303.49 1198.37,-1313.29 1204.68,-1323.04 1210.99,-1332.75 1217.30,-1342.40 1223.61,-1352.01 1229.93,-1361.56 1236.24,-1371.07 1242.55,-1380.52 1248.86,-1389.93 1255.17,-1399.29 1261.48,-1408.60 1267.79,-1417.85 1274.11,-1427.06 1280.42,-1436.22 1286.73,-1445.33 1293.04,-1454.39 1299.35,-1463.40 1305.66,-1472.36 1311.98,-1481.27 1318.29,-1490.13 1324.60,-1498.94 1330.91,-1507.70 1337.22,-1516.42 1343.53,-1525.08 1349.85,-1533.69 1356.16,-1542.26 1362.47,-1550.77 1368.78,-1559.24 1375.09,-1567.65 1381.40,-1576.02 1387.71,-1584.33 1394.03,-1592.60 1400.34,-1600.81 1406.65,-1608.98 1412.96,-1617.10 1419.27,-1625.17 1425.58,-1633.18 1431.90,-1641.15 1438.21,-1649.07 1444.52,-1656.94 1450.83,-1664.76 1457.14,-1672.53 1463.45,-1680.25 1469.76,-1687.92 1476.08,-1695.54 1482.39,-1703.12 1488.70,-1710.64 1495.01,-1718.11 1501.32,-1725.53 1507.63,-1732.91 1513.95,-1740.23 1520.26,-1747.51 1526.57,-1754.73 1532.88,-1761.91 1539.19,-1769.03 1545.50,-1776.11 1551.82,-1783.13 1558.13,-1790.11 1564.44,-1797.04 1570.75,-1803.92 1577.06,-1810.74 1583.37,-1817.52 1589.68,-1824.25 1596.00,-1830.93 1602.31,-1837.56 1608.62,-1844.14 1614.93,-1850.67 1621.24,-1857.15 1627.55,-1863.58 1633.87,-1869.97 1640.18,-1876.30 1646.49,-1882.58 1652.80,-1888.81" fill="none" stroke="#9bc446" stroke-width="1.5" stroke-opacity="0.74" stroke-linejoin="round" clip-path="url(#cai)"/>
<circle cx="464.00" cy="184.38" r="2.40" fill="none" stroke="#9bc446" stroke-width="1.45" stroke-opacity="0.74" clip-path="url(#cai)"/>
<circle cx="528.80" cy="31.63" r="2.40" fill="none" stroke="#9bc446" stroke-width="1.45" stroke-opacity="0.74" clip-path="url(#cai)"/>
<circle cx="652.80" cy="-262.24" r="2.40" fill="none" stroke="#9bc446" stroke-width="1.45" stroke-opacity="0.74" clip-path="url(#cai)"/>
<circle cx="776.80" cy="-511.69" r="2.40" fill="none" stroke="#9bc446" stroke-width="1.45" stroke-opacity="0.74" clip-path="url(#cai)"/>
<circle cx="904.80" cy="-747.47" r="2.40" fill="none" stroke="#9bc446" stroke-width="1.45" stroke-opacity="0.74" clip-path="url(#cai)"/>
<circle cx="1028.80" cy="-986.67" r="2.40" fill="none" stroke="#9bc446" stroke-width="1.45" stroke-opacity="0.74" clip-path="url(#cai)"/>
<circle cx="1152.80" cy="-1198.54" r="2.40" fill="none" stroke="#9bc446" stroke-width="1.45" stroke-opacity="0.74" clip-path="url(#cai)"/>
<circle cx="1280.80" cy="-1376.23" r="2.40" fill="none" stroke="#9bc446" stroke-width="1.45" stroke-opacity="0.74" clip-path="url(#cai)"/>
<circle cx="1404.80" cy="-1581.26" r="2.40" fill="none" stroke="#9bc446" stroke-width="1.45" stroke-opacity="0.74" clip-path="url(#cai)"/>
<circle cx="1652.80" cy="-1888.80" r="2.40" fill="none" stroke="#9bc446" stroke-width="1.45" stroke-opacity="0.74" clip-path="url(#cai)"/>
<polyline points="396.80,268.59 403.11,257.37 409.42,246.19 415.73,235.04 422.05,223.92 428.36,212.84 434.67,201.80 440.98,190.79 447.29,179.82 453.60,168.88 459.92,157.97 466.23,147.10 472.54,136.27 478.85,125.47 485.16,114.71 491.47,103.98 497.78,93.28 504.10,82.62 510.41,72.00 516.72,61.41 523.03,50.86 529.34,40.34 535.65,29.86 541.97,19.41 548.28,8.99 554.59,-1.38 560.90,-11.73 567.21,-22.04 573.52,-32.31 579.84,-42.55 586.15,-52.75 592.46,-62.92 598.77,-73.05 605.08,-83.15 611.39,-93.21 617.70,-103.24 624.02,-113.23 630.33,-123.19 636.64,-133.11 642.95,-143.00 649.26,-152.85 655.57,-162.67 661.89,-172.46 668.20,-182.20 674.51,-191.92 680.82,-201.59 687.13,-211.24 693.44,-220.84 699.75,-230.42 706.07,-239.95 712.38,-249.46 718.69,-258.92 725.00,-268.35 731.31,-277.75 737.62,-287.11 743.94,-296.44 750.25,-305.73 756.56,-314.99 762.87,-324.21 769.18,-333.40 775.49,-342.55 781.81,-351.67 788.12,-360.75 794.43,-369.80 800.74,-378.81 807.05,-387.79 813.36,-396.73 819.67,-405.63 825.99,-414.51 832.30,-423.34 838.61,-432.14 844.92,-440.91 851.23,-449.64 857.54,-458.34 863.86,-467.00 870.17,-475.63 876.48,-484.22 882.79,-492.77 889.10,-501.29 895.41,-509.78 901.72,-518.23 908.04,-526.65 914.35,-535.03 920.66,-543.37 926.97,-551.69 933.28,-559.96 939.59,-568.20 945.91,-576.41 952.22,-584.58 958.53,-592.71 964.84,-600.82 971.15,-608.88 977.46,-616.91 983.77,-624.91 990.09,-632.87 996.40,-640.79 1002.71,-648.68 1009.02,-656.54 1015.33,-664.36 1021.64,-672.14 1027.96,-679.89 1034.27,-687.61 1040.58,-695.29 1046.89,-702.94 1053.20,-710.55 1059.51,-718.12 1065.83,-725.66 1072.14,-733.17 1078.45,-740.64 1084.76,-748.07 1091.07,-755.47 1097.38,-762.84 1103.69,-770.16 1110.01,-777.46 1116.32,-784.72 1122.63,-791.94 1128.94,-799.13 1135.25,-806.29 1141.56,-813.41 1147.88,-820.49 1154.19,-827.54 1160.50,-834.56 1166.81,-841.54 1173.12,-848.48 1179.43,-855.39 1185.74,-862.26 1192.06,-869.10 1198.37,-875.91 1204.68,-882.68 1210.99,-889.41 1217.30,-896.11 1223.61,-902.77 1229.93,-909.40 1236.24,-916.00 1242.55,-922.55 1248.86,-929.08 1255.17,-935.57 1261.48,-942.02 1267.79,-948.44 1274.11,-954.82 1280.42,-961.17 1286.73,-967.49 1293.04,-973.76 1299.35,-980.01 1305.66,-986.22 1311.98,-992.39 1318.29,-998.53 1324.60,-1004.63 1330.91,-1010.70 1337.22,-1016.73 1343.53,-1022.73 1349.85,-1028.69 1356.16,-1034.62 1362.47,-1040.51 1368.78,-1046.37 1375.09,-1052.20 1381.40,-1057.98 1387.71,-1063.74 1394.03,-1069.45 1400.34,-1075.14 1406.65,-1080.78 1412.96,-1086.40 1419.27,-1091.98 1425.58,-1097.52 1431.90,-1103.03 1438.21,-1108.50 1444.52,-1113.94 1450.83,-1119.34 1457.14,-1124.71 1463.45,-1130.04 1469.76,-1135.33 1476.08,-1140.60 1482.39,-1145.82 1488.70,-1151.02 1495.01,-1156.17 1501.32,-1161.30 1507.63,-1166.38 1513.95,-1171.44 1520.26,-1176.45 1526.57,-1181.43 1532.88,-1186.38 1539.19,-1191.29 1545.50,-1196.17 1551.82,-1201.01 1558.13,-1205.82 1564.44,-1210.59 1570.75,-1215.33 1577.06,-1220.03 1583.37,-1224.69 1589.68,-1229.33 1596.00,-1233.92 1602.31,-1238.48 1608.62,-1243.01 1614.93,-1247.50 1621.24,-1251.96 1627.55,-1256.38 1633.87,-1260.77 1640.18,-1265.12 1646.49,-1269.43 1652.80,-1273.71" fill="none" stroke="#9bc446" stroke-width="1.5" stroke-opacity="0.74" stroke-linejoin="round" stroke-dasharray="5.5,2.5" clip-path="url(#cai)"/>
<rect x="461.79" y="178.76" width="4.42" height="4.42" fill="none" stroke="#9bc446" stroke-width="1.45" stroke-opacity="0.74" clip-path="url(#cai)"/>
<rect x="526.59" y="29.43" width="4.42" height="4.42" fill="none" stroke="#9bc446" stroke-width="1.45" stroke-opacity="0.74" clip-path="url(#cai)"/>
<rect x="650.59" y="-199.52" width="4.42" height="4.42" fill="none" stroke="#9bc446" stroke-width="1.45" stroke-opacity="0.74" clip-path="url(#cai)"/>
<rect x="774.59" y="-363.55" width="4.42" height="4.42" fill="none" stroke="#9bc446" stroke-width="1.45" stroke-opacity="0.74" clip-path="url(#cai)"/>
<rect x="902.59" y="-530.99" width="4.42" height="4.42" fill="none" stroke="#9bc446" stroke-width="1.45" stroke-opacity="0.74" clip-path="url(#cai)"/>
<rect x="1026.59" y="-695.01" width="4.42" height="4.42" fill="none" stroke="#9bc446" stroke-width="1.45" stroke-opacity="0.74" clip-path="url(#cai)"/>
<rect x="1150.59" y="-804.36" width="4.42" height="4.42" fill="none" stroke="#9bc446" stroke-width="1.45" stroke-opacity="0.74" clip-path="url(#cai)"/>
<rect x="1278.59" y="-951.29" width="4.42" height="4.42" fill="none" stroke="#9bc446" stroke-width="1.45" stroke-opacity="0.74" clip-path="url(#cai)"/>
<rect x="1402.59" y="-1091.40" width="4.42" height="4.42" fill="none" stroke="#9bc446" stroke-width="1.45" stroke-opacity="0.74" clip-path="url(#cai)"/>
<rect x="1650.59" y="-1275.92" width="4.42" height="4.42" fill="none" stroke="#9bc446" stroke-width="1.45" stroke-opacity="0.74" clip-path="url(#cai)"/>
<polyline points="396.80,286.66 408.58,271.50 420.36,256.33 432.14,241.16 443.92,225.98 455.69,210.81 467.47,195.63 479.25,180.44 491.03,165.25 502.81,150.06 514.59,134.87 526.37,119.67 538.15,104.47 549.93,89.26 561.70,74.06 573.48,58.85 585.26,43.63 597.04,28.41 608.82,13.19 620.60,-2.03 632.38,-17.26 644.16,-32.49 655.94,-47.73 667.71,-62.97 679.49,-78.21 691.27,-93.45 703.05,-108.70 714.83,-123.95 726.61,-139.21 738.39,-154.47 750.17,-169.73 761.95,-185.00 773.72,-200.26 785.50,-215.54 797.28,-230.81 809.06,-246.09 820.84,-261.37 832.62,-276.66 844.40,-291.95 856.18,-307.24 867.96,-322.54 879.73,-337.84 891.51,-353.14 903.29,-368.45 915.07,-383.76 926.85,-399.07 938.63,-414.39 950.41,-429.71 962.19,-445.03 973.97,-460.36 985.74,-475.69 997.52,-491.02 1009.30,-506.36 1021.08,-521.70 1032.86,-537.04 1044.64,-552.39 1056.42,-567.74 1068.20,-583.09 1079.98,-598.45 1091.75,-613.81 1103.53,-629.17 1115.31,-644.54 1127.09,-659.91 1138.87,-675.28 1150.65,-690.66 1162.43,-706.04 1174.21,-721.42 1185.99,-736.81 1197.76,-752.20 1209.54,-767.60 1221.32,-783.00 1233.10,-798.40 1244.88,-813.80 1256.66,-829.21 1268.44,-844.62 1280.22,-860.04 1292.00,-875.45 1303.77,-890.87 1315.55,-906.30 1327.33,-921.73 1339.11,-937.16 1350.89,-952.59 1362.67,-968.03 1374.45,-983.47 1386.23,-998.92 1398.01,-1014.37 1409.78,-1029.82 1421.56,-1045.28 1433.34,-1060.73 1445.12,-1076.20 1456.90,-1091.66 1468.68,-1107.13 1480.46,-1122.60 1492.24,-1138.08 1504.02,-1153.56 1515.79,-1169.04 1527.57,-1184.53 1539.35,-1200.02 1551.13,-1215.51 1562.91,-1231.00 1574.69,-1246.50 1586.47,-1262.01 1598.25,-1277.51 1610.03,-1293.02 1621.81,-1308.54 1633.58,-1324.05 1645.36,-1339.57 1657.14,-1355.09 1668.92,-1370.62 1680.70,-1386.15 1692.48,-1401.68 1704.26,-1417.22 1716.04,-1432.76 1727.82,-1448.30 1739.59,-1463.85 1751.37,-1479.40 1763.15,-1494.96 1774.93,-1510.51 1786.71,-1526.07 1798.49,-1541.64 1810.27,-1557.20 1822.05,-1572.77 1833.83,-1588.35 1845.60,-1603.93 1857.38,-1619.51 1869.16,-1635.09 1880.94,-1650.68 1892.72,-1666.27 1904.50,-1681.86 1916.28,-1697.46 1928.06,-1713.06 1939.84,-1728.67 1951.61,-1744.28 1963.39,-1759.89 1975.17,-1775.50 1986.95,-1791.12 1998.73,-1806.74 2010.51,-1822.37 2022.29,-1837.99 2034.07,-1853.63 2045.85,-1869.26 2057.62,-1884.90 2069.40,-1900.54 2081.18,-1916.19 2092.96,-1931.83 2104.74,-1947.49 2116.52,-1963.14 2128.30,-1978.80 2140.08,-1994.46 2151.86,-2010.13 2163.63,-2025.80 2175.41,-2041.47 2187.19,-2057.15 2198.97,-2072.82 2210.75,-2088.51 2222.53,-2104.19 2234.31,-2119.88 2246.09,-2135.57 2257.87,-2151.27 2269.64,-2166.97 2281.42,-2182.67 2293.20,-2198.38 2304.98,-2214.09 2316.76,-2229.80 2328.54,-2245.52 2340.32,-2261.24 2352.10,-2276.96 2363.88,-2292.69 2375.65,-2308.42 2387.43,-2324.15 2399.21,-2339.89 2410.99,-2355.63 2422.77,-2371.37 2434.55,-2387.12 2446.33,-2402.87 2458.11,-2418.62 2469.89,-2434.38 2481.66,-2450.14 2493.44,-2465.90 2505.22,-2481.67 2517.00,-2497.44 2528.78,-2513.21 2540.56,-2528.99 2552.34,-2544.77 2564.12,-2560.56 2575.90,-2576.34 2587.67,-2592.14 2599.45,-2607.93 2611.23,-2623.73 2623.01,-2639.53 2634.79,-2655.33 2646.57,-2671.14 2658.35,-2686.95 2670.13,-2702.77 2681.91,-2718.59 2693.68,-2734.41 2705.46,-2750.23 2717.24,-2766.06 2729.02,-2781.89 2740.80,-2797.73" fill="none" stroke="#e4262a" stroke-width="1.5" stroke-opacity="0.74" stroke-linejoin="round" clip-path="url(#cai)"/>
<circle cx="514.00" cy="170.03" r="2.40" fill="none" stroke="#e4262a" stroke-width="1.45" stroke-opacity="0.74" clip-path="url(#cai)"/>
<circle cx="632.80" cy="-16.21" r="2.40" fill="none" stroke="#e4262a" stroke-width="1.45" stroke-opacity="0.74" clip-path="url(#cai)"/>
<circle cx="868.80" cy="-334.00" r="2.40" fill="none" stroke="#e4262a" stroke-width="1.45" stroke-opacity="0.74" clip-path="url(#cai)"/>
<circle cx="1100.80" cy="-638.13" r="2.40" fill="none" stroke="#e4262a" stroke-width="1.45" stroke-opacity="0.74" clip-path="url(#cai)"/>
<circle cx="1332.80" cy="-918.33" r="2.40" fill="none" stroke="#e4262a" stroke-width="1.45" stroke-opacity="0.74" clip-path="url(#cai)"/>
<circle cx="1568.80" cy="-1215.62" r="2.40" fill="none" stroke="#e4262a" stroke-width="1.45" stroke-opacity="0.74" clip-path="url(#cai)"/>
<circle cx="1804.80" cy="-1523.17" r="2.40" fill="none" stroke="#e4262a" stroke-width="1.45" stroke-opacity="0.74" clip-path="url(#cai)"/>
<circle cx="2040.80" cy="-1820.46" r="2.40" fill="none" stroke="#e4262a" stroke-width="1.45" stroke-opacity="0.74" clip-path="url(#cai)"/>
<circle cx="2272.80" cy="-2182.67" r="2.40" fill="none" stroke="#e4262a" stroke-width="1.45" stroke-opacity="0.74" clip-path="url(#cai)"/>
<circle cx="2508.80" cy="-2459.46" r="2.40" fill="none" stroke="#e4262a" stroke-width="1.45" stroke-opacity="0.74" clip-path="url(#cai)"/>
<circle cx="2740.80" cy="-2797.76" r="2.40" fill="none" stroke="#e4262a" stroke-width="1.45" stroke-opacity="0.74" clip-path="url(#cai)"/>
<polyline points="396.80,255.12 408.58,242.43 420.36,229.74 432.14,217.04 443.92,204.33 455.69,191.62 467.47,178.90 479.25,166.18 491.03,153.45 502.81,140.71 514.59,127.97 526.37,115.22 538.15,102.46 549.93,89.70 561.70,76.93 573.48,64.16 585.26,51.38 597.04,38.59 608.82,25.79 620.60,12.99 632.38,0.19 644.16,-12.63 655.94,-25.45 667.71,-38.27 679.49,-51.10 691.27,-63.94 703.05,-76.79 714.83,-89.64 726.61,-102.50 738.39,-115.36 750.17,-128.23 761.95,-141.11 773.72,-153.99 785.50,-166.88 797.28,-179.78 809.06,-192.68 820.84,-205.59 832.62,-218.50 844.40,-231.42 856.18,-244.35 867.96,-257.28 879.73,-270.22 891.51,-283.17 903.29,-296.12 915.07,-309.08 926.85,-322.05 938.63,-335.02 950.41,-348.00 962.19,-360.98 973.97,-373.97 985.74,-386.97 997.52,-399.98 1009.30,-412.99 1021.08,-426.00 1032.86,-439.03 1044.64,-452.05 1056.42,-465.09 1068.20,-478.13 1079.98,-491.18 1091.75,-504.23 1103.53,-517.30 1115.31,-530.36 1127.09,-543.44 1138.87,-556.52 1150.65,-569.60 1162.43,-582.70 1174.21,-595.79 1185.99,-608.90 1197.76,-622.01 1209.54,-635.13 1221.32,-648.25 1233.10,-661.39 1244.88,-674.52 1256.66,-687.67 1268.44,-700.82 1280.22,-713.97 1292.00,-727.13 1303.77,-740.30 1315.55,-753.48 1327.33,-766.66 1339.11,-779.85 1350.89,-793.04 1362.67,-806.24 1374.45,-819.45 1386.23,-832.66 1398.01,-845.88 1409.78,-859.11 1421.56,-872.34 1433.34,-885.58 1445.12,-898.83 1456.90,-912.08 1468.68,-925.34 1480.46,-938.60 1492.24,-951.87 1504.02,-965.15 1515.79,-978.43 1527.57,-991.72 1539.35,-1005.02 1551.13,-1018.32 1562.91,-1031.63 1574.69,-1044.94 1586.47,-1058.26 1598.25,-1071.59 1610.03,-1084.93 1621.81,-1098.27 1633.58,-1111.61 1645.36,-1124.97 1657.14,-1138.33 1668.92,-1151.69 1680.70,-1165.06 1692.48,-1178.44 1704.26,-1191.83 1716.04,-1205.22 1727.82,-1218.62 1739.59,-1232.02 1751.37,-1245.43 1763.15,-1258.85 1774.93,-1272.27 1786.71,-1285.70 1798.49,-1299.14 1810.27,-1312.58 1822.05,-1326.03 1833.83,-1339.48 1845.60,-1352.94 1857.38,-1366.41 1869.16,-1379.88 1880.94,-1393.36 1892.72,-1406.85 1904.50,-1420.34 1916.28,-1433.84 1928.06,-1447.35 1939.84,-1460.86 1951.61,-1474.38 1963.39,-1487.90 1975.17,-1501.43 1986.95,-1514.97 1998.73,-1528.52 2010.51,-1542.07 2022.29,-1555.62 2034.07,-1569.18 2045.85,-1582.75 2057.62,-1596.33 2069.40,-1609.91 2081.18,-1623.50 2092.96,-1637.09 2104.74,-1650.69 2116.52,-1664.30 2128.30,-1677.92 2140.08,-1691.54 2151.86,-1705.16 2163.63,-1718.79 2175.41,-1732.43 2187.19,-1746.08 2198.97,-1759.73 2210.75,-1773.39 2222.53,-1787.05 2234.31,-1800.72 2246.09,-1814.40 2257.87,-1828.08 2269.64,-1841.77 2281.42,-1855.47 2293.20,-1869.17 2304.98,-1882.88 2316.76,-1896.60 2328.54,-1910.32 2340.32,-1924.05 2352.10,-1937.78 2363.88,-1951.52 2375.65,-1965.27 2387.43,-1979.02 2399.21,-1992.78 2410.99,-2006.55 2422.77,-2020.32 2434.55,-2034.10 2446.33,-2047.89 2458.11,-2061.68 2469.89,-2075.47 2481.66,-2089.28 2493.44,-2103.09 2505.22,-2116.91 2517.00,-2130.73 2528.78,-2144.56 2540.56,-2158.40 2552.34,-2172.24 2564.12,-2186.09 2575.90,-2199.94 2587.67,-2213.80 2599.45,-2227.67 2611.23,-2241.54 2623.01,-2255.43 2634.79,-2269.31 2646.57,-2283.21 2658.35,-2297.10 2670.13,-2311.01 2681.91,-2324.92 2693.68,-2338.84 2705.46,-2352.77 2717.24,-2366.70 2729.02,-2380.64 2740.80,-2394.58" fill="none" stroke="#e4262a" stroke-width="1.5" stroke-opacity="0.74" stroke-linejoin="round" stroke-dasharray="5.5,2.5" clip-path="url(#cai)"/>
<rect x="511.79" y="159.28" width="4.42" height="4.42" fill="none" stroke="#e4262a" stroke-width="1.45" stroke-opacity="0.74" clip-path="url(#cai)"/>
<rect x="630.59" y="-11.58" width="4.42" height="4.42" fill="none" stroke="#e4262a" stroke-width="1.45" stroke-opacity="0.74" clip-path="url(#cai)"/>
<rect x="866.59" y="-302.04" width="4.42" height="4.42" fill="none" stroke="#e4262a" stroke-width="1.45" stroke-opacity="0.74" clip-path="url(#cai)"/>
<rect x="1098.59" y="-561.74" width="4.42" height="4.42" fill="none" stroke="#e4262a" stroke-width="1.45" stroke-opacity="0.74" clip-path="url(#cai)"/>
<rect x="1330.59" y="-794.11" width="4.42" height="4.42" fill="none" stroke="#e4262a" stroke-width="1.45" stroke-opacity="0.74" clip-path="url(#cai)"/>
<rect x="1566.59" y="-1060.64" width="4.42" height="4.42" fill="none" stroke="#e4262a" stroke-width="1.45" stroke-opacity="0.74" clip-path="url(#cai)"/>
<rect x="1802.59" y="-1323.76" width="4.42" height="4.42" fill="none" stroke="#e4262a" stroke-width="1.45" stroke-opacity="0.74" clip-path="url(#cai)"/>
<rect x="2038.59" y="-1542.46" width="4.42" height="4.42" fill="none" stroke="#e4262a" stroke-width="1.45" stroke-opacity="0.74" clip-path="url(#cai)"/>
<rect x="2270.59" y="-1829.50" width="4.42" height="4.42" fill="none" stroke="#e4262a" stroke-width="1.45" stroke-opacity="0.74" clip-path="url(#cai)"/>
<rect x="2506.59" y="-2123.37" width="4.42" height="4.42" fill="none" stroke="#e4262a" stroke-width="1.45" stroke-opacity="0.74" clip-path="url(#cai)"/>
<rect x="2738.59" y="-2396.75" width="4.42" height="4.42" fill="none" stroke="#e4262a" stroke-width="1.45" stroke-opacity="0.74" clip-path="url(#cai)"/>
<polyline points="396.80,260.92 413.89,260.91 430.97,260.89 448.06,260.87 465.14,260.84 482.23,260.81 499.31,260.77 516.40,260.73 533.48,260.69 550.57,260.64 567.65,260.59 584.74,260.54 601.83,260.48 618.91,260.42 636.00,260.35 653.08,260.28 670.17,260.20 687.25,260.12 704.34,260.04 721.42,259.95 738.51,259.86 755.59,259.77 772.68,259.67 789.76,259.57 806.85,259.46 823.94,259.35 841.02,259.23 858.11,259.12 875.19,258.99 892.28,258.87 909.36,258.73 926.45,258.60 943.53,258.46 960.62,258.32 977.70,258.17 994.79,258.02 1011.88,257.87 1028.96,257.71 1046.05,257.54 1063.13,257.38 1080.22,257.21 1097.30,257.03 1114.39,256.85 1131.47,256.67 1148.56,256.48 1165.64,256.29 1182.73,256.10 1199.82,255.90 1216.90,255.70 1233.99,255.49 1251.07,255.28 1268.16,255.07 1285.24,254.85 1302.33,254.62 1319.41,254.40 1336.50,254.17 1353.58,253.93 1370.67,253.69 1387.75,253.45 1404.84,253.20 1421.93,252.95 1439.01,252.70 1456.10,252.44 1473.18,252.18 1490.27,251.91 1507.35,251.64 1524.44,251.37 1541.52,251.09 1558.61,250.81 1575.69,250.52 1592.78,250.23 1609.87,249.94 1626.95,249.64 1644.04,249.33 1661.12,249.03 1678.21,248.72 1695.29,248.40 1712.38,248.08 1729.46,247.76 1746.55,247.44 1763.63,247.11 1780.72,246.77 1797.81,246.43 1814.89,246.09 1831.98,245.74 1849.06,245.39 1866.15,245.04 1883.23,244.68 1900.32,244.32 1917.40,243.95 1934.49,243.58 1951.57,243.21 1968.66,242.83 1985.74,242.45 2002.83,242.06 2019.92,241.67 2037.00,241.28 2054.09,240.88 2071.17,240.48 2088.26,240.07 2105.34,239.66 2122.43,239.25 2139.51,238.83 2156.60,238.41 2173.68,237.98 2190.77,237.55 2207.86,237.12 2224.94,236.68 2242.03,236.24 2259.11,235.79 2276.20,235.34 2293.28,234.89 2310.37,234.43 2327.45,233.97 2344.54,233.50 2361.62,233.03 2378.71,232.56 2395.79,232.08 2412.88,231.60 2429.97,231.11 2447.05,230.62 2464.14,230.13 2481.22,229.63 2498.31,229.13 2515.39,228.62 2532.48,228.11 2549.56,227.60 2566.65,227.08 2583.73,226.56 2600.82,226.03 2617.91,225.50 2634.99,224.97 2652.08,224.43 2669.16,223.89 2686.25,223.34 2703.33,222.79 2720.42,222.24 2737.50,221.68 2754.59,221.12 2771.67,220.55 2788.76,219.98 2805.85,219.41 2822.93,218.83 2840.02,218.25 2857.10,217.66 2874.19,217.07 2891.27,216.48 2908.36,215.88 2925.44,215.28 2942.53,214.68 2959.61,214.07 2976.70,213.45 2993.78,212.84 3010.87,212.21 3027.96,211.59 3045.04,210.96 3062.13,210.32 3079.21,209.69 3096.30,209.05 3113.38,208.40 3130.47,207.75 3147.55,207.10 3164.64,206.44 3181.72,205.78 3198.81,205.11 3215.90,204.44 3232.98,203.77 3250.07,203.09 3267.15,202.41 3284.24,201.73 3301.32,201.04 3318.41,200.34 3335.49,199.64 3352.58,198.94 3369.66,198.24 3386.75,197.53 3403.84,196.82 3420.92,196.10 3438.01,195.38 3455.09,194.65 3472.18,193.92 3489.26,193.19 3506.35,192.45 3523.43,191.71 3540.52,190.96 3557.60,190.22 3574.69,189.46 3591.77,188.70 3608.86,187.94 3625.95,187.18 3643.03,186.41 3660.12,185.64 3677.20,184.86 3694.29,184.08 3711.37,183.29 3728.46,182.50 3745.54,181.71 3762.63,180.91 3779.71,180.11 3796.80,179.31" fill="none" stroke="#9867ad" stroke-width="1.5" stroke-opacity="0.74" stroke-linejoin="round" clip-path="url(#cai)"/>
<circle cx="736.80" cy="264.00" r="2.40" fill="none" stroke="#9867ad" stroke-width="1.45" stroke-opacity="0.74" clip-path="url(#cai)"/>
<circle cx="1076.80" cy="262.97" r="2.40" fill="none" stroke="#9867ad" stroke-width="1.45" stroke-opacity="0.74" clip-path="url(#cai)"/>
<circle cx="1416.80" cy="260.58" r="2.40" fill="none" stroke="#9867ad" stroke-width="1.45" stroke-opacity="0.74" clip-path="url(#cai)"/>
<circle cx="1756.80" cy="257.17" r="2.40" fill="none" stroke="#9867ad" stroke-width="1.45" stroke-opacity="0.74" clip-path="url(#cai)"/>
<circle cx="2096.80" cy="250.33" r="2.40" fill="none" stroke="#9867ad" stroke-width="1.45" stroke-opacity="0.74" clip-path="url(#cai)"/>
<circle cx="2436.80" cy="243.50" r="2.40" fill="none" stroke="#9867ad" stroke-width="1.45" stroke-opacity="0.74" clip-path="url(#cai)"/>
<circle cx="2776.80" cy="233.25" r="2.40" fill="none" stroke="#9867ad" stroke-width="1.45" stroke-opacity="0.74" clip-path="url(#cai)"/>
<circle cx="3116.80" cy="219.58" r="2.40" fill="none" stroke="#9867ad" stroke-width="1.45" stroke-opacity="0.74" clip-path="url(#cai)"/>
<circle cx="3456.80" cy="202.49" r="2.40" fill="none" stroke="#9867ad" stroke-width="1.45" stroke-opacity="0.74" clip-path="url(#cai)"/>
<circle cx="3796.80" cy="181.99" r="2.40" fill="none" stroke="#9867ad" stroke-width="1.45" stroke-opacity="0.74" clip-path="url(#cai)"/>
<polyline points="396.80,259.22 413.89,259.20 430.97,259.18 448.06,259.16 465.14,259.13 482.23,259.10 499.31,259.07 516.40,259.03 533.48,258.99 550.57,258.94 567.65,258.89 584.74,258.84 601.83,258.78 618.91,258.72 636.00,258.65 653.08,258.58 670.17,258.51 687.25,258.43 704.34,258.35 721.42,258.27 738.51,258.18 755.59,258.09 772.68,257.99 789.76,257.89 806.85,257.79 823.94,257.68 841.02,257.57 858.11,257.45 875.19,257.33 892.28,257.21 909.36,257.08 926.45,256.95 943.53,256.82 960.62,256.68 977.70,256.54 994.79,256.39 1011.88,256.24 1028.96,256.08 1046.05,255.93 1063.13,255.76 1080.22,255.60 1097.30,255.43 1114.39,255.26 1131.47,255.08 1148.56,254.90 1165.64,254.71 1182.73,254.52 1199.82,254.33 1216.90,254.13 1233.99,253.93 1251.07,253.73 1268.16,253.52 1285.24,253.31 1302.33,253.09 1319.41,252.87 1336.50,252.65 1353.58,252.42 1370.67,252.19 1387.75,251.95 1404.84,251.71 1421.93,251.47 1439.01,251.22 1456.10,250.97 1473.18,250.72 1490.27,250.46 1507.35,250.20 1524.44,249.93 1541.52,249.66 1558.61,249.39 1575.69,249.11 1592.78,248.83 1609.87,248.54 1626.95,248.25 1644.04,247.96 1661.12,247.66 1678.21,247.36 1695.29,247.05 1712.38,246.75 1729.46,246.43 1746.55,246.12 1763.63,245.80 1780.72,245.47 1797.81,245.14 1814.89,244.81 1831.98,244.48 1849.06,244.14 1866.15,243.79 1883.23,243.44 1900.32,243.09 1917.40,242.74 1934.49,242.38 1951.57,242.02 1968.66,241.65 1985.74,241.28 2002.83,240.90 2019.92,240.53 2037.00,240.14 2054.09,239.76 2071.17,239.37 2088.26,238.97 2105.34,238.58 2122.43,238.17 2139.51,237.77 2156.60,237.36 2173.68,236.95 2190.77,236.53 2207.86,236.11 2224.94,235.68 2242.03,235.25 2259.11,234.82 2276.20,234.39 2293.28,233.95 2310.37,233.50 2327.45,233.05 2344.54,232.60 2361.62,232.15 2378.71,231.69 2395.79,231.22 2412.88,230.76 2429.97,230.28 2447.05,229.81 2464.14,229.33 2481.22,228.85 2498.31,228.36 2515.39,227.87 2532.48,227.38 2549.56,226.88 2566.65,226.38 2583.73,225.87 2600.82,225.36 2617.91,224.85 2634.99,224.33 2652.08,223.81 2669.16,223.28 2686.25,222.75 2703.33,222.22 2720.42,221.68 2737.50,221.14 2754.59,220.60 2771.67,220.05 2788.76,219.50 2805.85,218.94 2822.93,218.38 2840.02,217.82 2857.10,217.25 2874.19,216.68 2891.27,216.10 2908.36,215.52 2925.44,214.94 2942.53,214.35 2959.61,213.76 2976.70,213.17 2993.78,212.57 3010.87,211.96 3027.96,211.36 3045.04,210.75 3062.13,210.13 3079.21,209.52 3096.30,208.89 3113.38,208.27 3130.47,207.64 3147.55,207.00 3164.64,206.37 3181.72,205.73 3198.81,205.08 3215.90,204.43 3232.98,203.78 3250.07,203.12 3267.15,202.46 3284.24,201.80 3301.32,201.13 3318.41,200.46 3335.49,199.78 3352.58,199.10 3369.66,198.42 3386.75,197.73 3403.84,197.04 3420.92,196.34 3438.01,195.64 3455.09,194.94 3472.18,194.23 3489.26,193.52 3506.35,192.81 3523.43,192.09 3540.52,191.37 3557.60,190.64 3574.69,189.91 3591.77,189.18 3608.86,188.44 3625.95,187.70 3643.03,186.95 3660.12,186.20 3677.20,185.45 3694.29,184.69 3711.37,183.93 3728.46,183.16 3745.54,182.40 3762.63,181.62 3779.71,180.85 3796.80,180.07" fill="none" stroke="#9867ad" stroke-width="1.5" stroke-opacity="0.74" stroke-linejoin="round" stroke-dasharray="5.5,2.5" clip-path="url(#cai)"/>
<rect x="734.59" y="261.79" width="4.42" height="4.42" fill="none" stroke="#9867ad" stroke-width="1.45" stroke-opacity="0.74" clip-path="url(#cai)"/>
<rect x="1074.59" y="260.77" width="4.42" height="4.42" fill="none" stroke="#9867ad" stroke-width="1.45" stroke-opacity="0.74" clip-path="url(#cai)"/>
<rect x="1414.59" y="258.37" width="4.42" height="4.42" fill="none" stroke="#9867ad" stroke-width="1.45" stroke-opacity="0.74" clip-path="url(#cai)"/>
<rect x="1754.59" y="254.96" width="4.42" height="4.42" fill="none" stroke="#9867ad" stroke-width="1.45" stroke-opacity="0.74" clip-path="url(#cai)"/>
<rect x="2094.59" y="248.12" width="4.42" height="4.42" fill="none" stroke="#9867ad" stroke-width="1.45" stroke-opacity="0.74" clip-path="url(#cai)"/>
<rect x="2434.59" y="241.29" width="4.42" height="4.42" fill="none" stroke="#9867ad" stroke-width="1.45" stroke-opacity="0.74" clip-path="url(#cai)"/>
<rect x="2774.59" y="231.04" width="4.42" height="4.42" fill="none" stroke="#9867ad" stroke-width="1.45" stroke-opacity="0.74" clip-path="url(#cai)"/>
<rect x="3114.59" y="217.37" width="4.42" height="4.42" fill="none" stroke="#9867ad" stroke-width="1.45" stroke-opacity="0.74" clip-path="url(#cai)"/>
<rect x="3454.59" y="200.28" width="4.42" height="4.42" fill="none" stroke="#9867ad" stroke-width="1.45" stroke-opacity="0.74" clip-path="url(#cai)"/>
<rect x="3794.59" y="179.78" width="4.42" height="4.42" fill="none" stroke="#9867ad" stroke-width="1.45" stroke-opacity="0.74" clip-path="url(#cai)"/>
<rect x="396.8" y="144.4" width="180.8" height="119.6" fill="none" stroke="#444" stroke-width="0.9"/>
<line x1="396.80" y1="264.0" x2="396.80" y2="266.5" stroke="#222" stroke-width="0.9"/>
<text x="397.05" y="280.08" font-size="10.5" text-anchor="middle" font-weight="normal" fill="#000" stroke="#000" stroke-width="0.15">0</text>
<line x1="436.80" y1="264.0" x2="436.80" y2="266.5" stroke="#222" stroke-width="0.9"/>
<text x="437.05" y="280.08" font-size="10.5" text-anchor="middle" font-weight="normal" fill="#000" stroke="#000" stroke-width="0.15">100</text>
<line x1="476.80" y1="264.0" x2="476.80" y2="266.5" stroke="#222" stroke-width="0.9"/>
<text x="477.05" y="280.08" font-size="10.5" text-anchor="middle" font-weight="normal" fill="#000" stroke="#000" stroke-width="0.15">200</text>
<line x1="516.80" y1="264.0" x2="516.80" y2="266.5" stroke="#222" stroke-width="0.9"/>
<text x="517.05" y="280.08" font-size="10.5" text-anchor="middle" font-weight="normal" fill="#000" stroke="#000" stroke-width="0.15">300</text>
<line x1="556.80" y1="264.0" x2="556.80" y2="266.5" stroke="#222" stroke-width="0.9"/>
<text x="557.05" y="280.08" font-size="10.5" text-anchor="middle" font-weight="normal" fill="#000" stroke="#000" stroke-width="0.15">400</text>
<line x1="394.3" y1="264.00" x2="396.8" y2="264.00" stroke="#222" stroke-width="0.9"/>
<text x="389.70" y="268.28" font-size="10.5" text-anchor="end" font-weight="normal" fill="#000" stroke="#000" stroke-width="0.15">0.0</text>
<line x1="394.3" y1="229.83" x2="396.8" y2="229.83" stroke="#222" stroke-width="0.9"/>
<text x="389.70" y="234.11" font-size="10.5" text-anchor="end" font-weight="normal" fill="#000" stroke="#000" stroke-width="0.15">0.1</text>
<line x1="394.3" y1="195.66" x2="396.8" y2="195.66" stroke="#222" stroke-width="0.9"/>
<text x="389.70" y="199.94" font-size="10.5" text-anchor="end" font-weight="normal" fill="#000" stroke="#000" stroke-width="0.15">0.2</text>
<line x1="394.3" y1="161.49" x2="396.8" y2="161.49" stroke="#222" stroke-width="0.9"/>
<text x="389.70" y="165.77" font-size="10.5" text-anchor="end" font-weight="normal" fill="#000" stroke="#000" stroke-width="0.15">0.3</text>
<text x="486.10" y="294.00" font-size="10.4" text-anchor="middle" font-weight="normal" fill="#000" stroke="#000" stroke-width="0.15">Cantilever amplitude (pm)</text>
<line x1="0.5" y1="353.2" x2="684.5" y2="353.2" stroke="#8a8a8a" stroke-width="1" fill="none" stroke-dasharray="5.7,5.51" stroke-dashoffset="2.95"/>
<line x1="0.5" y1="515.5" x2="684.5" y2="515.5" stroke="#8a8a8a" stroke-width="1" fill="none" stroke-dasharray="5.7,5.51" stroke-dashoffset="2.95"/>
<line x1="0.5" y1="353.2" x2="0.5" y2="515.5" stroke="#8a8a8a" stroke-width="1" fill="none" stroke-dasharray="5.7,5.57" stroke-dashoffset="4.65"/>
<line x1="684.5" y1="353.2" x2="684.5" y2="515.5" stroke="#8a8a8a" stroke-width="1" fill="none" stroke-dasharray="5.4,5.55" stroke-dashoffset="3.25"/>
<text x="1.70" y="368.70" font-size="16.6" text-anchor="start" font-weight="bold" fill="#000">b</text>
<line x1="46.9" y1="399.60" x2="336.8" y2="399.60" stroke="#cfcfcf" stroke-width="0.8" stroke-dasharray="2.6,1.2"/>
<line x1="46.9" y1="422.50" x2="336.8" y2="422.50" stroke="#cfcfcf" stroke-width="0.8" stroke-dasharray="2.6,1.2"/>
<line x1="46.9" y1="447.00" x2="336.8" y2="447.00" stroke="#cfcfcf" stroke-width="0.8" stroke-dasharray="2.6,1.2"/>
<line x1="46.9" y1="472.40" x2="336.8" y2="472.40" stroke="#cfcfcf" stroke-width="0.8" stroke-dasharray="2.6,1.2"/>
<rect x="59.50" y="415.30" width="19.65" height="31.70" fill="#f38e86"/>
<rect x="79.15" y="421.00" width="19.65" height="26.00" fill="#93bbd0"/>
<rect x="115.80" y="393.10" width="19.65" height="53.90" fill="#f38e86"/>
<rect x="135.45" y="399.70" width="19.65" height="47.30" fill="#93bbd0"/>
<rect x="172.10" y="447.00" width="19.65" height="31.90" fill="#f38e86"/>
<rect x="191.75" y="447.00" width="19.65" height="32.50" fill="#93bbd0"/>
<rect x="228.40" y="444.10" width="19.65" height="2.90" fill="#f38e86"/>
<rect x="248.05" y="446.00" width="19.65" height="1.00" fill="#93bbd0"/>
<rect x="284.70" y="446.00" width="19.65" height="1.00" fill="#f38e86"/>
<rect x="304.35" y="446.00" width="19.65" height="1.00" fill="#93bbd0"/>
<line x1="46.9" y1="399.60" x2="336.8" y2="399.60" stroke="#d8d8d8" stroke-opacity="0.5" stroke-width="0.8" stroke-dasharray="2.6,1.2"/>
<line x1="46.9" y1="422.50" x2="336.8" y2="422.50" stroke="#d8d8d8" stroke-opacity="0.5" stroke-width="0.8" stroke-dasharray="2.6,1.2"/>
<line x1="46.9" y1="447.00" x2="336.8" y2="447.00" stroke="#d8d8d8" stroke-opacity="0.5" stroke-width="0.8" stroke-dasharray="2.6,1.2"/>
<line x1="46.9" y1="472.40" x2="336.8" y2="472.40" stroke="#d8d8d8" stroke-opacity="0.5" stroke-width="0.8" stroke-dasharray="2.6,1.2"/>
<rect x="46.9" y="388.5" width="289.90000000000003" height="98.69999999999999" fill="none" stroke="#444" stroke-width="0.9"/>
<line x1="44.4" y1="399.60" x2="46.9" y2="399.60" stroke="#222" stroke-width="0.9"/>
<text x="38.90" y="403.80" font-size="10" text-anchor="end" fill="#000" stroke="#000" stroke-width="0.15">10<tspan font-size="7" dy="-4.4">−6</tspan></text>
<line x1="44.4" y1="422.50" x2="46.9" y2="422.50" stroke="#222" stroke-width="0.9"/>
<text x="38.90" y="426.70" font-size="10" text-anchor="end" fill="#000" stroke="#000" stroke-width="0.15">10<tspan font-size="7" dy="-4.4">−7</tspan></text>
<line x1="44.4" y1="447.00" x2="46.9" y2="447.00" stroke="#222" stroke-width="0.9"/>
<text x="39.40" y="450.70" font-size="10.5" text-anchor="end" font-weight="normal" fill="#000" stroke="#000" stroke-width="0.15">0.00</text>
<line x1="44.4" y1="472.40" x2="46.9" y2="472.40" stroke="#222" stroke-width="0.9"/>
<text x="38.90" y="476.60" font-size="10" text-anchor="end" fill="#000" stroke="#000" stroke-width="0.15">10<tspan font-size="7" dy="-4.4">−7</tspan></text>
<text x="78.34" y="499.60" font-size="10" text-anchor="middle" font-weight="normal" fill="#000" stroke="#000" stroke-width="0.15">B1</text>
<text x="134.90" y="499.60" font-size="10" text-anchor="middle" font-weight="normal" fill="#000" stroke="#000" stroke-width="0.15">T1</text>
<text x="191.45" y="499.60" font-size="10" text-anchor="middle" font-weight="normal" fill="#000" stroke="#000" stroke-width="0.15">B2</text>
<text x="248.00" y="499.60" font-size="10" text-anchor="middle" font-weight="normal" fill="#000" stroke="#000" stroke-width="0.15">B3</text>
<text x="304.56" y="499.60" font-size="10" text-anchor="middle" font-weight="normal" fill="#000" stroke="#000" stroke-width="0.15">T2</text>
<text x="12.40" y="438.00" font-size="10.55" text-anchor="middle" font-weight="normal" fill="#000" stroke="#000" stroke-width="0.15" transform="rotate(-90 12.40 438.00)">Modulation coefficient a</text>
<rect x="272.20" y="392.7" width="60.1" height="27.4" rx="2" fill="#fff" fill-opacity="0.9" stroke="#e2e2e2" stroke-width="0.8"/>
<rect x="275.60" y="397.2" width="16.8" height="5.5" fill="#f38e86"/>
<rect x="275.60" y="409.0" width="16.8" height="5.8" fill="#93bbd0"/>
<text x="296.80" y="404.20" font-size="10.4" text-anchor="start" font-weight="normal" fill="#000" stroke="#000" stroke-width="0.15">red sb</text>
<text x="296.80" y="415.90" font-size="10.4" text-anchor="start" font-weight="normal" fill="#000" stroke="#000" stroke-width="0.15">blue sb</text>
<line x1="383.4" y1="408.50" x2="675.5" y2="408.50" stroke="#cfcfcf" stroke-width="0.8" stroke-dasharray="2.6,1.2"/>
<line x1="383.4" y1="440.70" x2="675.5" y2="440.70" stroke="#cfcfcf" stroke-width="0.8" stroke-dasharray="2.6,1.2"/>
<line x1="383.4" y1="476.40" x2="675.5" y2="476.40" stroke="#cfcfcf" stroke-width="0.8" stroke-dasharray="2.6,1.2"/>
<rect x="397.35" y="470.10" width="19.65" height="6.30" fill="#f38e86"/>
<rect x="417.00" y="442.50" width="19.65" height="33.90" fill="#93bbd0"/>
<rect x="453.65" y="451.70" width="19.65" height="24.70" fill="#f38e86"/>
<rect x="473.30" y="427.20" width="19.65" height="49.20" fill="#93bbd0"/>
<rect x="509.95" y="395.40" width="19.65" height="81.00" fill="#f38e86"/>
<rect x="529.60" y="398.60" width="19.65" height="77.80" fill="#93bbd0"/>
<rect x="566.25" y="404.00" width="19.65" height="72.40" fill="#f38e86"/>
<rect x="585.90" y="405.40" width="19.65" height="71.00" fill="#93bbd0"/>
<rect x="622.55" y="476.40" width="19.65" height="4.60" fill="#f38e86"/>
<rect x="642.20" y="476.40" width="19.65" height="6.20" fill="#93bbd0"/>
<line x1="383.4" y1="408.50" x2="675.5" y2="408.50" stroke="#d8d8d8" stroke-opacity="0.5" stroke-width="0.8" stroke-dasharray="2.6,1.2"/>
<line x1="383.4" y1="440.70" x2="675.5" y2="440.70" stroke="#d8d8d8" stroke-opacity="0.5" stroke-width="0.8" stroke-dasharray="2.6,1.2"/>
<line x1="383.4" y1="476.40" x2="675.5" y2="476.40" stroke="#d8d8d8" stroke-opacity="0.5" stroke-width="0.8" stroke-dasharray="2.6,1.2"/>
<rect x="383.4" y="388.6" width="292.1" height="98.59999999999997" fill="none" stroke="#444" stroke-width="0.9"/>
<line x1="380.9" y1="408.50" x2="383.4" y2="408.50" stroke="#222" stroke-width="0.9"/>
<text x="376.40" y="412.70" font-size="10" text-anchor="end" fill="#000" stroke="#000" stroke-width="0.15">10<tspan font-size="7" dy="-4.4">−3</tspan></text>
<line x1="380.9" y1="440.70" x2="383.4" y2="440.70" stroke="#222" stroke-width="0.9"/>
<text x="376.40" y="444.90" font-size="10" text-anchor="end" fill="#000" stroke="#000" stroke-width="0.15">10<tspan font-size="7" dy="-4.4">−4</tspan></text>
<line x1="380.9" y1="476.40" x2="383.4" y2="476.40" stroke="#222" stroke-width="0.9"/>
<text x="376.90" y="480.10" font-size="10.5" text-anchor="end" font-weight="normal" fill="#000" stroke="#000" stroke-width="0.15">0.00</text>
<text x="416.19" y="499.60" font-size="10" text-anchor="middle" font-weight="normal" fill="#000" stroke="#000" stroke-width="0.15">B1</text>
<text x="472.75" y="499.60" font-size="10" text-anchor="middle" font-weight="normal" fill="#000" stroke="#000" stroke-width="0.15">T1</text>
<text x="529.30" y="499.60" font-size="10" text-anchor="middle" font-weight="normal" fill="#000" stroke="#000" stroke-width="0.15">B2</text>
<text x="585.85" y="499.60" font-size="10" text-anchor="middle" font-weight="normal" fill="#000" stroke="#000" stroke-width="0.15">B3</text>
<text x="642.41" y="499.60" font-size="10" text-anchor="middle" font-weight="normal" fill="#000" stroke="#000" stroke-width="0.15">T2</text>
<text x="352.70" y="438.00" font-size="10.55" text-anchor="middle" font-weight="normal" fill="#000" stroke="#000" stroke-width="0.15" transform="rotate(-90 352.70 438.00)">Modulation coefficient b</text>
<rect x="610.40" y="392.7" width="60.1" height="27.4" rx="2" fill="#fff" fill-opacity="0.9" stroke="#e2e2e2" stroke-width="0.8"/>
<rect x="613.80" y="397.2" width="16.8" height="5.5" fill="#f38e86"/>
<rect x="613.80" y="409.0" width="16.8" height="5.8" fill="#93bbd0"/>
<text x="635.00" y="404.20" font-size="10.4" text-anchor="start" font-weight="normal" fill="#000" stroke="#000" stroke-width="0.15">red sb</text>
<text x="635.00" y="415.90" font-size="10.4" text-anchor="start" font-weight="normal" fill="#000" stroke="#000" stroke-width="0.15">blue sb</text>
<defs>
<clipPath id="cc"><rect x="133.4" y="535.8" width="464.80000000000007" height="306.0"/></clipPath>
<clipPath id="cci"><rect x="403.4" y="644.0" width="180.80000000000007" height="120.20000000000005"/></clipPath>
</defs>
<line x1="211.64" y1="535.8" x2="211.64" y2="841.8" stroke="#dadada" stroke-width="0.9" stroke-dasharray="1.05,1.0"/>
<line x1="289.68" y1="535.8" x2="289.68" y2="841.8" stroke="#dadada" stroke-width="0.9" stroke-dasharray="1.05,1.0"/>
<line x1="367.72" y1="535.8" x2="367.72" y2="841.8" stroke="#dadada" stroke-width="0.9" stroke-dasharray="1.05,1.0"/>
<line x1="445.76" y1="535.8" x2="445.76" y2="841.8" stroke="#dadada" stroke-width="0.9" stroke-dasharray="1.05,1.0"/>
<line x1="523.80" y1="535.8" x2="523.80" y2="841.8" stroke="#dadada" stroke-width="0.9" stroke-dasharray="1.05,1.0"/>
<line x1="133.4" y1="814.20" x2="598.2" y2="814.20" stroke="#dadada" stroke-width="0.9" stroke-dasharray="1.05,1.0"/>
<line x1="133.4" y1="779.43" x2="598.2" y2="779.43" stroke="#dadada" stroke-width="0.9" stroke-dasharray="1.05,1.0"/>
<line x1="133.4" y1="744.65" x2="598.2" y2="744.65" stroke="#dadada" stroke-width="0.9" stroke-dasharray="1.05,1.0"/>
<line x1="133.4" y1="709.88" x2="598.2" y2="709.88" stroke="#dadada" stroke-width="0.9" stroke-dasharray="1.05,1.0"/>
<line x1="133.4" y1="675.10" x2="598.2" y2="675.10" stroke="#dadada" stroke-width="0.9" stroke-dasharray="1.05,1.0"/>
<line x1="133.4" y1="640.33" x2="598.2" y2="640.33" stroke="#dadada" stroke-width="0.9" stroke-dasharray="1.05,1.0"/>
<line x1="133.4" y1="605.55" x2="598.2" y2="605.55" stroke="#dadada" stroke-width="0.9" stroke-dasharray="1.05,1.0"/>
<line x1="133.4" y1="570.78" x2="598.2" y2="570.78" stroke="#dadada" stroke-width="0.9" stroke-dasharray="1.05,1.0"/>
<polyline points="133.60,813.09 137.50,813.71 141.64,814.80 149.87,815.37 158.18,814.76 166.38,813.37 174.57,810.86 182.77,807.25 190.96,802.38 198.76,796.12 207.35,788.47 215.54,779.43" fill="none" stroke="#2a7ca8" stroke-width="1.5" stroke-opacity="0.92" stroke-linejoin="round" clip-path="url(#cc)"/>
<circle cx="133.60" cy="814.20" r="2.85" fill="none" stroke="#2a7ca8" stroke-width="1.35" stroke-opacity="0.8" clip-path="url(#cc)"/>
<circle cx="137.50" cy="814.09" r="2.85" fill="none" stroke="#2a7ca8" stroke-width="1.35" stroke-opacity="0.8" clip-path="url(#cc)"/>
<circle cx="141.64" cy="814.42" r="2.85" fill="none" stroke="#2a7ca8" stroke-width="1.35" stroke-opacity="0.8" clip-path="url(#cc)"/>
<circle cx="149.87" cy="814.34" r="2.85" fill="none" stroke="#2a7ca8" stroke-width="1.35" stroke-opacity="0.8" clip-path="url(#cc)"/>
<circle cx="158.18" cy="813.23" r="2.85" fill="none" stroke="#2a7ca8" stroke-width="1.35" stroke-opacity="0.8" clip-path="url(#cc)"/>
<circle cx="166.38" cy="812.25" r="2.85" fill="none" stroke="#2a7ca8" stroke-width="1.35" stroke-opacity="0.8" clip-path="url(#cc)"/>
<circle cx="174.57" cy="811.00" r="2.85" fill="none" stroke="#2a7ca8" stroke-width="1.35" stroke-opacity="0.8" clip-path="url(#cc)"/>
<circle cx="182.77" cy="805.44" r="2.85" fill="none" stroke="#2a7ca8" stroke-width="1.35" stroke-opacity="0.8" clip-path="url(#cc)"/>
<circle cx="190.96" cy="801.82" r="2.85" fill="none" stroke="#2a7ca8" stroke-width="1.35" stroke-opacity="0.8" clip-path="url(#cc)"/>
<circle cx="198.76" cy="795.42" r="2.85" fill="none" stroke="#2a7ca8" stroke-width="1.35" stroke-opacity="0.8" clip-path="url(#cc)"/>
<circle cx="207.35" cy="783.04" r="2.85" fill="none" stroke="#2a7ca8" stroke-width="1.35" stroke-opacity="0.8" clip-path="url(#cc)"/>
<circle cx="215.54" cy="779.15" r="2.85" fill="none" stroke="#2a7ca8" stroke-width="1.35" stroke-opacity="0.8" clip-path="url(#cc)"/>
<polyline points="133.60,814.27 134.34,814.69 134.93,814.97 135.98,815.15 137.03,815.20 138.13,815.15 139.26,814.87 140.35,814.23 141.44,813.41 142.50,812.38 143.63,811.21 144.72,809.94" fill="none" stroke="#f0802c" stroke-width="1.5" stroke-opacity="0.92" stroke-linejoin="round" clip-path="url(#cc)"/>
<rect x="131.78" y="811.29" width="5.13" height="5.13" fill="none" stroke="#f0802c" stroke-width="1.35" stroke-opacity="0.8" clip-path="url(#cc)"/>
<rect x="132.36" y="812.41" width="5.13" height="5.13" fill="none" stroke="#f0802c" stroke-width="1.35" stroke-opacity="0.8" clip-path="url(#cc)"/>
<rect x="133.42" y="812.75" width="5.13" height="5.13" fill="none" stroke="#f0802c" stroke-width="1.35" stroke-opacity="0.8" clip-path="url(#cc)"/>
<rect x="134.47" y="812.18" width="5.13" height="5.13" fill="none" stroke="#f0802c" stroke-width="1.35" stroke-opacity="0.8" clip-path="url(#cc)"/>
<rect x="135.56" y="812.61" width="5.13" height="5.13" fill="none" stroke="#f0802c" stroke-width="1.35" stroke-opacity="0.8" clip-path="url(#cc)"/>
<rect x="136.69" y="814.04" width="5.13" height="5.13" fill="none" stroke="#f0802c" stroke-width="1.35" stroke-opacity="0.8" clip-path="url(#cc)"/>
<rect x="137.79" y="811.72" width="5.13" height="5.13" fill="none" stroke="#f0802c" stroke-width="1.35" stroke-opacity="0.8" clip-path="url(#cc)"/>
<rect x="138.88" y="810.09" width="5.13" height="5.13" fill="none" stroke="#f0802c" stroke-width="1.35" stroke-opacity="0.8" clip-path="url(#cc)"/>
<rect x="139.93" y="810.49" width="5.13" height="5.13" fill="none" stroke="#f0802c" stroke-width="1.35" stroke-opacity="0.8" clip-path="url(#cc)"/>
<rect x="141.06" y="806.68" width="5.13" height="5.13" fill="none" stroke="#f0802c" stroke-width="1.35" stroke-opacity="0.8" clip-path="url(#cc)"/>
<rect x="142.16" y="808.92" width="5.13" height="5.13" fill="none" stroke="#f0802c" stroke-width="1.35" stroke-opacity="0.8" clip-path="url(#cc)"/>
<polyline points="133.60,830.20 256.51,555.03" fill="none" stroke="#98c34a" stroke-width="1.5" stroke-opacity="0.92" stroke-linejoin="round" clip-path="url(#cc)"/>
<polygon points="134.11,811.44 136.87,816.96 131.34,816.96" fill="none" stroke="#98c34a" stroke-width="1.35" stroke-opacity="0.8" clip-path="url(#cc)"/>
<polygon points="140.19,813.09 142.96,818.62 137.43,818.62" fill="none" stroke="#98c34a" stroke-width="1.35" stroke-opacity="0.8" clip-path="url(#cc)"/>
<polygon points="146.32,815.61 149.09,821.14 143.56,821.14" fill="none" stroke="#98c34a" stroke-width="1.35" stroke-opacity="0.8" clip-path="url(#cc)"/>
<polygon points="158.57,784.03 161.34,789.56 155.81,789.56" fill="none" stroke="#98c34a" stroke-width="1.35" stroke-opacity="0.8" clip-path="url(#cc)"/>
<polygon points="170.67,750.23 173.43,755.76 167.90,755.76" fill="none" stroke="#98c34a" stroke-width="1.35" stroke-opacity="0.8" clip-path="url(#cc)"/>
<polygon points="182.77,722.41 185.53,727.94 180.00,727.94" fill="none" stroke="#98c34a" stroke-width="1.35" stroke-opacity="0.8" clip-path="url(#cc)"/>
<polygon points="194.86,694.59 197.63,700.12 192.10,700.12" fill="none" stroke="#98c34a" stroke-width="1.35" stroke-opacity="0.8" clip-path="url(#cc)"/>
<polygon points="206.96,649.38 209.72,654.91 204.19,654.91" fill="none" stroke="#98c34a" stroke-width="1.35" stroke-opacity="0.8" clip-path="url(#cc)"/>
<polygon points="219.44,637.56 222.21,643.09 216.68,643.09" fill="none" stroke="#98c34a" stroke-width="1.35" stroke-opacity="0.8" clip-path="url(#cc)"/>
<polygon points="231.93,608.35 234.69,613.88 229.17,613.88" fill="none" stroke="#98c34a" stroke-width="1.35" stroke-opacity="0.8" clip-path="url(#cc)"/>
<polygon points="256.51,557.58 259.28,563.11 253.75,563.11" fill="none" stroke="#98c34a" stroke-width="1.35" stroke-opacity="0.8" clip-path="url(#cc)"/>
<polyline points="133.60,824.77 137.48,822.31 141.35,819.83 145.23,817.33 149.10,814.81 152.98,812.27 156.85,809.71 160.73,807.13 164.60,804.54 168.48,801.92 172.36,799.29 176.23,796.63 180.11,793.96 183.98,791.27 187.86,788.55 191.73,785.82 195.61,783.07 199.48,780.30 203.36,777.51 207.24,774.71 211.11,771.88 214.99,769.03 218.86,766.17 222.74,763.28 226.61,760.38 230.49,757.45 234.36,754.51 238.24,751.55 242.12,748.57 245.99,745.57 249.87,742.55 253.74,739.51 257.62,736.45 261.49,733.37 265.37,730.27 269.24,727.16 273.12,724.02 277.00,720.87 280.87,717.69 284.75,714.50 288.62,711.29 292.50,708.06 296.37,704.81 300.25,701.54 304.12,698.25 308.00,694.94 311.88,691.61 315.75,688.27 319.63,684.90 323.50,681.51 327.38,678.11 331.25,674.69 335.13,671.24 339.00,667.78 342.88,664.30 346.76,660.80 350.63,657.28 354.51,653.74 358.38,650.18 362.26,646.60" fill="none" stroke="#e5262b" stroke-width="1.5" stroke-opacity="0.92" stroke-linejoin="round" clip-path="url(#cc)"/>
<polygon points="133.60,810.50 137.31,814.20 133.60,817.91 129.89,814.20" fill="none" stroke="#e5262b" stroke-width="1.35" stroke-opacity="0.8" clip-path="url(#cc)"/>
<polygon points="145.11,814.25 148.82,817.96 145.11,821.66 141.41,817.96" fill="none" stroke="#e5262b" stroke-width="1.35" stroke-opacity="0.8" clip-path="url(#cc)"/>
<polygon points="156.50,813.83 160.21,817.54 156.50,821.24 152.80,817.54" fill="none" stroke="#e5262b" stroke-width="1.35" stroke-opacity="0.8" clip-path="url(#cc)"/>
<polygon points="179.25,794.92 182.96,798.62 179.25,802.33 175.55,798.62" fill="none" stroke="#e5262b" stroke-width="1.35" stroke-opacity="0.8" clip-path="url(#cc)"/>
<polygon points="202.28,779.34 205.98,783.04 202.28,786.75 198.57,783.04" fill="none" stroke="#e5262b" stroke-width="1.35" stroke-opacity="0.8" clip-path="url(#cc)"/>
<polygon points="224.91,761.11 228.61,764.82 224.91,768.52 221.20,764.82" fill="none" stroke="#e5262b" stroke-width="1.35" stroke-opacity="0.8" clip-path="url(#cc)"/>
<polygon points="247.93,742.34 251.63,746.04 247.93,749.75 244.22,746.04" fill="none" stroke="#e5262b" stroke-width="1.35" stroke-opacity="0.8" clip-path="url(#cc)"/>
<polygon points="270.95,726.90 274.66,730.60 270.95,734.31 267.25,730.60" fill="none" stroke="#e5262b" stroke-width="1.35" stroke-opacity="0.8" clip-path="url(#cc)"/>
<polygon points="293.58,692.82 297.29,696.52 293.58,700.23 289.88,696.52" fill="none" stroke="#e5262b" stroke-width="1.35" stroke-opacity="0.8" clip-path="url(#cc)"/>
<polygon points="316.21,667.64 319.92,671.34 316.21,675.05 312.51,671.34" fill="none" stroke="#e5262b" stroke-width="1.35" stroke-opacity="0.8" clip-path="url(#cc)"/>
<polygon points="339.24,673.06 342.94,676.77 339.24,680.47 335.53,676.77" fill="none" stroke="#e5262b" stroke-width="1.35" stroke-opacity="0.8" clip-path="url(#cc)"/>
<polygon points="362.26,649.70 365.96,653.40 362.26,657.11 358.55,653.40" fill="none" stroke="#e5262b" stroke-width="1.35" stroke-opacity="0.8" clip-path="url(#cc)"/>
<polyline points="133.60,814.62 142.10,814.48 150.61,814.36 159.11,814.25 167.62,814.16 176.12,814.08 184.63,814.02 193.13,813.97 201.63,813.94 210.14,813.92 218.64,813.92 227.15,813.93 235.65,813.96 244.16,814.00 252.66,814.06 261.17,814.13 269.67,814.22 278.17,814.32 286.68,814.43 295.18,814.56 303.69,814.71 312.19,814.87 320.70,815.05 329.20,815.24 337.70,815.45 346.21,815.67 354.71,815.90 363.22,816.15 371.72,816.42 380.23,816.70 388.73,816.99 397.24,817.30 405.74,817.63 414.24,817.97 422.75,818.32 431.25,818.69 439.76,819.08 448.26,819.48 456.77,819.89 465.27,820.32" fill="none" stroke="#9a6bb0" stroke-width="1.5" stroke-opacity="0.92" stroke-linejoin="round" clip-path="url(#cc)"/>
<polygon points="133.60,810.35 134.62,812.80 137.26,813.01 135.25,814.74 135.86,817.31 133.60,815.93 131.34,817.31 131.95,814.74 129.94,813.01 132.58,812.80" stroke-linejoin="round" fill="none" stroke="#9a6bb0" stroke-width="1.35" stroke-opacity="0.8" clip-path="url(#cc)"/>
<polygon points="166.77,810.77 167.78,813.22 170.43,813.43 168.41,815.15 169.03,817.73 166.77,816.35 164.51,817.73 165.12,815.15 163.11,813.43 165.75,813.22" stroke-linejoin="round" fill="none" stroke="#9a6bb0" stroke-width="1.35" stroke-opacity="0.8" clip-path="url(#cc)"/>
<polygon points="199.93,810.77 200.95,813.22 203.59,813.43 201.58,815.15 202.20,817.73 199.93,816.35 197.67,817.73 198.29,815.15 196.27,813.43 198.92,813.22" stroke-linejoin="round" fill="none" stroke="#9a6bb0" stroke-width="1.35" stroke-opacity="0.8" clip-path="url(#cc)"/>
<polygon points="233.10,810.77 234.12,813.22 236.76,813.43 234.75,815.15 235.36,817.73 233.10,816.35 230.84,817.73 231.45,815.15 229.44,813.43 232.08,813.22" stroke-linejoin="round" fill="none" stroke="#9a6bb0" stroke-width="1.35" stroke-opacity="0.8" clip-path="url(#cc)"/>
<polygon points="266.27,810.77 267.29,813.22 269.93,813.43 267.91,815.15 268.53,817.73 266.27,816.35 264.01,817.73 264.62,815.15 262.61,813.43 265.25,813.22" stroke-linejoin="round" fill="none" stroke="#9a6bb0" stroke-width="1.35" stroke-opacity="0.8" clip-path="url(#cc)"/>
<polygon points="299.44,811.19 300.45,813.63 303.09,813.85 301.08,815.57 301.70,818.15 299.44,816.77 297.17,818.15 297.79,815.57 295.78,813.85 298.42,813.63" stroke-linejoin="round" fill="none" stroke="#9a6bb0" stroke-width="1.35" stroke-opacity="0.8" clip-path="url(#cc)"/>
<polygon points="332.60,811.19 333.62,813.63 336.26,813.85 334.25,815.57 334.86,818.15 332.60,816.77 330.34,818.15 330.96,815.57 328.94,813.85 331.58,813.63" stroke-linejoin="round" fill="none" stroke="#9a6bb0" stroke-width="1.35" stroke-opacity="0.8" clip-path="url(#cc)"/>
<polygon points="365.77,810.07 366.79,812.52 369.43,812.73 367.42,814.46 368.03,817.03 365.77,815.65 363.51,817.03 364.12,814.46 362.11,812.73 364.75,812.52" stroke-linejoin="round" fill="none" stroke="#9a6bb0" stroke-width="1.35" stroke-opacity="0.8" clip-path="url(#cc)"/>
<polygon points="398.94,813.13 399.95,815.58 402.60,815.79 400.58,817.52 401.20,820.09 398.94,818.71 396.67,820.09 397.29,817.52 395.28,815.79 397.92,815.58" stroke-linejoin="round" fill="none" stroke="#9a6bb0" stroke-width="1.35" stroke-opacity="0.8" clip-path="url(#cc)"/>
<polygon points="432.10,815.08 433.12,817.53 435.76,817.74 433.75,819.46 434.36,822.04 432.10,820.66 429.84,822.04 430.46,819.46 428.44,817.74 431.09,817.53" stroke-linejoin="round" fill="none" stroke="#9a6bb0" stroke-width="1.35" stroke-opacity="0.8" clip-path="url(#cc)"/>
<polygon points="465.27,816.47 466.29,818.92 468.93,819.13 466.92,820.86 467.53,823.43 465.27,822.05 463.01,823.43 463.62,820.86 461.61,819.13 464.25,818.92" stroke-linejoin="round" fill="none" stroke="#9a6bb0" stroke-width="1.35" stroke-opacity="0.8" clip-path="url(#cc)"/>
<rect x="133.4" y="535.8" width="464.80000000000007" height="306.0" fill="none" stroke="#444" stroke-width="0.9"/>
<line x1="133.60" y1="841.8" x2="133.60" y2="844.3" stroke="#222" stroke-width="0.9"/>
<text x="133.85" y="856.98" font-size="10.5" text-anchor="middle" font-weight="normal" fill="#000" stroke="#000" stroke-width="0.15">0</text>
<line x1="211.64" y1="841.8" x2="211.64" y2="844.3" stroke="#222" stroke-width="0.9"/>
<text x="211.89" y="856.98" font-size="10.5" text-anchor="middle" font-weight="normal" fill="#000" stroke="#000" stroke-width="0.15">2</text>
<line x1="289.68" y1="841.8" x2="289.68" y2="844.3" stroke="#222" stroke-width="0.9"/>
<text x="289.93" y="856.98" font-size="10.5" text-anchor="middle" font-weight="normal" fill="#000" stroke="#000" stroke-width="0.15">4</text>
<line x1="367.72" y1="841.8" x2="367.72" y2="844.3" stroke="#222" stroke-width="0.9"/>
<text x="367.97" y="856.98" font-size="10.5" text-anchor="middle" font-weight="normal" fill="#000" stroke="#000" stroke-width="0.15">6</text>
<line x1="445.76" y1="841.8" x2="445.76" y2="844.3" stroke="#222" stroke-width="0.9"/>
<text x="446.01" y="856.98" font-size="10.5" text-anchor="middle" font-weight="normal" fill="#000" stroke="#000" stroke-width="0.15">8</text>
<line x1="523.80" y1="841.8" x2="523.80" y2="844.3" stroke="#222" stroke-width="0.9"/>
<text x="524.05" y="856.98" font-size="10.5" text-anchor="middle" font-weight="normal" fill="#000" stroke="#000" stroke-width="0.15">10</text>
<line x1="130.9" y1="814.20" x2="133.4" y2="814.20" stroke="#222" stroke-width="0.9"/>
<text x="126.30" y="818.48" font-size="10.5" text-anchor="end" font-weight="normal" fill="#000" stroke="#000" stroke-width="0.15">0.00</text>
<line x1="130.9" y1="779.43" x2="133.4" y2="779.43" stroke="#222" stroke-width="0.9"/>
<text x="126.30" y="783.71" font-size="10.5" text-anchor="end" font-weight="normal" fill="#000" stroke="#000" stroke-width="0.15">0.25</text>
<line x1="130.9" y1="744.65" x2="133.4" y2="744.65" stroke="#222" stroke-width="0.9"/>
<text x="126.30" y="748.93" font-size="10.5" text-anchor="end" font-weight="normal" fill="#000" stroke="#000" stroke-width="0.15">0.50</text>
<line x1="130.9" y1="709.88" x2="133.4" y2="709.88" stroke="#222" stroke-width="0.9"/>
<text x="126.30" y="714.15" font-size="10.5" text-anchor="end" font-weight="normal" fill="#000" stroke="#000" stroke-width="0.15">0.75</text>
<line x1="130.9" y1="675.10" x2="133.4" y2="675.10" stroke="#222" stroke-width="0.9"/>
<text x="126.30" y="679.38" font-size="10.5" text-anchor="end" font-weight="normal" fill="#000" stroke="#000" stroke-width="0.15">1.00</text>
<line x1="130.9" y1="640.33" x2="133.4" y2="640.33" stroke="#222" stroke-width="0.9"/>
<text x="126.30" y="644.61" font-size="10.5" text-anchor="end" font-weight="normal" fill="#000" stroke="#000" stroke-width="0.15">1.25</text>
<line x1="130.9" y1="605.55" x2="133.4" y2="605.55" stroke="#222" stroke-width="0.9"/>
<text x="126.30" y="609.83" font-size="10.5" text-anchor="end" font-weight="normal" fill="#000" stroke="#000" stroke-width="0.15">1.50</text>
<line x1="130.9" y1="570.78" x2="133.4" y2="570.78" stroke="#222" stroke-width="0.9"/>
<text x="126.30" y="575.06" font-size="10.5" text-anchor="end" font-weight="normal" fill="#000" stroke="#000" stroke-width="0.15">1.75</text>
<line x1="130.9" y1="536.00" x2="133.4" y2="536.00" stroke="#222" stroke-width="0.9"/>
<text x="126.30" y="540.28" font-size="10.5" text-anchor="end" font-weight="normal" fill="#000" stroke="#000" stroke-width="0.15">2.00</text>
<text x="366.80" y="871.60" font-size="10.4" text-anchor="middle" font-weight="normal" fill="#000" stroke="#000" stroke-width="0.15">Cantilever amplitude (nm)</text>
<text x="96.40" y="690.30" font-size="10.4" text-anchor="middle" font-weight="normal" fill="#000" stroke="#000" stroke-width="0.15" transform="rotate(-90 96.40 690.30)">Δ Amplitude (pW)</text>
<text x="87.20" y="538.40" font-size="15.5" text-anchor="start" font-weight="bold" fill="#000">c</text>
<rect x="337.4" y="543.6" width="244.9" height="14.4" rx="2" fill="#fff" fill-opacity="0.85" stroke="#e0e0e0" stroke-width="0.8"/>
<circle cx="349.10" cy="550.60" r="2.50" fill="none" stroke="#2a7ca8" stroke-width="1.2" stroke-opacity="0.85"/>
<text x="364.50" y="554.30" font-size="10.2" text-anchor="start" font-weight="normal" fill="#000" stroke="#000" stroke-width="0.15">B1</text>
<rect x="397.90" y="548.00" width="5.20" height="5.20" fill="none" stroke="#f0802c" stroke-width="1.2" stroke-opacity="0.85"/>
<text x="414.30" y="554.30" font-size="10.2" text-anchor="start" font-weight="normal" fill="#000" stroke="#000" stroke-width="0.15">T1</text>
<polygon points="450.70,547.70 453.60,553.50 447.80,553.50" fill="none" stroke="#98c34a" stroke-width="1.2" stroke-opacity="0.85"/>
<text x="466.00" y="554.30" font-size="10.2" text-anchor="start" font-weight="normal" fill="#000" stroke="#000" stroke-width="0.15">B2</text>
<polygon points="502.00,546.80 505.80,550.60 502.00,554.40 498.20,550.60" fill="none" stroke="#e5262b" stroke-width="1.2" stroke-opacity="0.85"/>
<text x="516.80" y="554.30" font-size="10.2" text-anchor="start" font-weight="normal" fill="#000" stroke="#000" stroke-width="0.15">B3</text>
<polygon points="553.40,546.60 554.46,549.14 557.20,549.36 555.11,551.16 555.75,553.84 553.40,552.40 551.05,553.84 551.69,551.16 549.60,549.36 552.34,549.14" stroke-linejoin="round" fill="none" stroke="#9a6bb0" stroke-width="1.2" stroke-opacity="0.85"/>
<text x="564.00" y="554.30" font-size="10.2" text-anchor="start" font-weight="normal" fill="#000" stroke="#000" stroke-width="0.15">T2</text>
<rect x="403.4" y="644.0" width="180.80000000000007" height="120.20000000000005" fill="#fff"/>
<line x1="421.80" y1="644.0" x2="421.80" y2="764.2" stroke="#dadada" stroke-width="0.9" stroke-dasharray="1.05,1.0"/>
<line x1="457.95" y1="644.0" x2="457.95" y2="764.2" stroke="#dadada" stroke-width="0.9" stroke-dasharray="1.05,1.0"/>
<line x1="494.10" y1="644.0" x2="494.10" y2="764.2" stroke="#dadada" stroke-width="0.9" stroke-dasharray="1.05,1.0"/>
<line x1="530.25" y1="644.0" x2="530.25" y2="764.2" stroke="#dadada" stroke-width="0.9" stroke-dasharray="1.05,1.0"/>
<line x1="566.40" y1="644.0" x2="566.40" y2="764.2" stroke="#dadada" stroke-width="0.9" stroke-dasharray="1.05,1.0"/>
<line x1="403.4" y1="738.40" x2="584.2" y2="738.40" stroke="#dadada" stroke-width="0.9" stroke-dasharray="1.05,1.0"/>
<line x1="403.4" y1="711.40" x2="584.2" y2="711.40" stroke="#dadada" stroke-width="0.9" stroke-dasharray="1.05,1.0"/>
<line x1="403.4" y1="684.40" x2="584.2" y2="684.40" stroke="#dadada" stroke-width="0.9" stroke-dasharray="1.05,1.0"/>
<line x1="403.4" y1="657.40" x2="584.2" y2="657.40" stroke="#dadada" stroke-width="0.9" stroke-dasharray="1.05,1.0"/>
<polyline points="421.80,700.46 457.95,710.32 496.27,717.20 572.55,722.74 649.55,717.61" fill="none" stroke="#2a7ca8" stroke-width="1.3" stroke-opacity="0.92" stroke-linejoin="round" clip-path="url(#cci)"/>
<circle cx="421.80" cy="711.40" r="2.80" fill="none" stroke="#2a7ca8" stroke-width="1.6" stroke-opacity="0.8" clip-path="url(#cci)"/>
<circle cx="457.95" cy="710.32" r="2.80" fill="none" stroke="#2a7ca8" stroke-width="1.6" stroke-opacity="0.8" clip-path="url(#cci)"/>
<circle cx="496.27" cy="713.56" r="2.80" fill="none" stroke="#2a7ca8" stroke-width="1.6" stroke-opacity="0.8" clip-path="url(#cci)"/>
<circle cx="572.55" cy="712.75" r="2.80" fill="none" stroke="#2a7ca8" stroke-width="1.6" stroke-opacity="0.8" clip-path="url(#cci)"/>
<circle cx="649.55" cy="701.95" r="2.80" fill="none" stroke="#2a7ca8" stroke-width="1.6" stroke-opacity="0.8" clip-path="url(#cci)"/>
<circle cx="725.46" cy="692.50" r="2.80" fill="none" stroke="#2a7ca8" stroke-width="1.6" stroke-opacity="0.8" clip-path="url(#cci)"/>
<circle cx="801.38" cy="680.35" r="2.80" fill="none" stroke="#2a7ca8" stroke-width="1.6" stroke-opacity="0.8" clip-path="url(#cci)"/>
<circle cx="877.29" cy="626.35" r="2.80" fill="none" stroke="#2a7ca8" stroke-width="1.6" stroke-opacity="0.8" clip-path="url(#cci)"/>
<circle cx="953.20" cy="591.25" r="2.80" fill="none" stroke="#2a7ca8" stroke-width="1.6" stroke-opacity="0.8" clip-path="url(#cci)"/>
<circle cx="1025.51" cy="529.15" r="2.80" fill="none" stroke="#2a7ca8" stroke-width="1.6" stroke-opacity="0.8" clip-path="url(#cci)"/>
<circle cx="1105.03" cy="409.00" r="2.80" fill="none" stroke="#2a7ca8" stroke-width="1.6" stroke-opacity="0.8" clip-path="url(#cci)"/>
<circle cx="1180.95" cy="371.20" r="2.80" fill="none" stroke="#2a7ca8" stroke-width="1.6" stroke-opacity="0.8" clip-path="url(#cci)"/>
<polyline points="421.80,711.67 428.67,715.45 434.09,718.82 443.85,720.58 453.61,720.99 463.73,720.71 474.22,717.75 484.34,711.67 494.46,703.57 504.22,693.44 514.71,682.11 524.83,670.09" fill="none" stroke="#f0802c" stroke-width="1.3" stroke-opacity="0.92" stroke-linejoin="round" clip-path="url(#cci)"/>
<rect x="426.15" y="705.50" width="5.04" height="5.04" fill="none" stroke="#f0802c" stroke-width="1.6" stroke-opacity="0.8" clip-path="url(#cci)"/>
<rect x="431.57" y="716.44" width="5.04" height="5.04" fill="none" stroke="#f0802c" stroke-width="1.6" stroke-opacity="0.8" clip-path="url(#cci)"/>
<rect x="441.33" y="719.68" width="5.04" height="5.04" fill="none" stroke="#f0802c" stroke-width="1.6" stroke-opacity="0.8" clip-path="url(#cci)"/>
<rect x="451.09" y="714.14" width="5.04" height="5.04" fill="none" stroke="#f0802c" stroke-width="1.6" stroke-opacity="0.8" clip-path="url(#cci)"/>
<rect x="461.21" y="718.33" width="5.04" height="5.04" fill="none" stroke="#f0802c" stroke-width="1.6" stroke-opacity="0.8" clip-path="url(#cci)"/>
<rect x="471.70" y="732.24" width="5.04" height="5.04" fill="none" stroke="#f0802c" stroke-width="1.6" stroke-opacity="0.8" clip-path="url(#cci)"/>
<rect x="481.82" y="709.69" width="5.04" height="5.04" fill="none" stroke="#f0802c" stroke-width="1.6" stroke-opacity="0.8" clip-path="url(#cci)"/>
<rect x="491.94" y="693.89" width="5.04" height="5.04" fill="none" stroke="#f0802c" stroke-width="1.6" stroke-opacity="0.8" clip-path="url(#cci)"/>
<rect x="501.70" y="697.81" width="5.04" height="5.04" fill="none" stroke="#f0802c" stroke-width="1.6" stroke-opacity="0.8" clip-path="url(#cci)"/>
<rect x="512.19" y="660.82" width="5.04" height="5.04" fill="none" stroke="#f0802c" stroke-width="1.6" stroke-opacity="0.8" clip-path="url(#cci)"/>
<rect x="522.31" y="682.55" width="5.04" height="5.04" fill="none" stroke="#f0802c" stroke-width="1.6" stroke-opacity="0.8" clip-path="url(#cci)"/>
<polyline points="457.95,795.48 566.40,549.64" fill="none" stroke="#98c34a" stroke-width="1.3" stroke-opacity="0.92" stroke-linejoin="round" clip-path="url(#cci)"/>
<polygon points="426.50,708.68 429.22,714.12 423.78,714.12" fill="none" stroke="#98c34a" stroke-width="1.6" stroke-opacity="0.8" clip-path="url(#cci)"/>
<polygon points="482.89,724.75 485.61,730.18 480.18,730.18" fill="none" stroke="#98c34a" stroke-width="1.6" stroke-opacity="0.8" clip-path="url(#cci)"/>
<polygon points="539.65,749.18 542.37,754.62 536.93,754.62" fill="none" stroke="#98c34a" stroke-width="1.6" stroke-opacity="0.8" clip-path="url(#cci)"/>
<polygon points="653.16,442.73 655.88,448.17 650.44,448.17" fill="none" stroke="#98c34a" stroke-width="1.6" stroke-opacity="0.8" clip-path="url(#cci)"/>
<polygon points="765.22,114.68 767.94,120.12 762.51,120.12" fill="none" stroke="#98c34a" stroke-width="1.6" stroke-opacity="0.8" clip-path="url(#cci)"/>
<polygon points="877.29,-155.32 880.01,-149.88 874.57,-149.88" fill="none" stroke="#98c34a" stroke-width="1.6" stroke-opacity="0.8" clip-path="url(#cci)"/>
<polygon points="989.36,-425.32 992.07,-419.88 986.64,-419.88" fill="none" stroke="#98c34a" stroke-width="1.6" stroke-opacity="0.8" clip-path="url(#cci)"/>
<polygon points="1101.42,-864.07 1104.14,-858.63 1098.70,-858.63" fill="none" stroke="#98c34a" stroke-width="1.6" stroke-opacity="0.8" clip-path="url(#cci)"/>
<polygon points="1217.10,-978.82 1219.82,-973.38 1214.38,-973.38" fill="none" stroke="#98c34a" stroke-width="1.6" stroke-opacity="0.8" clip-path="url(#cci)"/>
<polygon points="1332.78,-1262.32 1335.50,-1256.88 1330.06,-1256.88" fill="none" stroke="#98c34a" stroke-width="1.6" stroke-opacity="0.8" clip-path="url(#cci)"/>
<polygon points="1560.53,-1755.07 1563.24,-1749.63 1557.81,-1749.63" fill="none" stroke="#98c34a" stroke-width="1.6" stroke-opacity="0.8" clip-path="url(#cci)"/>
<polyline points="500.97,763.51 584.48,707.75 772.45,569.65" fill="none" stroke="#e5262b" stroke-width="1.3" stroke-opacity="0.92" stroke-linejoin="round" clip-path="url(#cci)"/>
<polygon points="421.80,707.76 425.44,711.40 421.80,715.04 418.16,711.40" fill="none" stroke="#e5262b" stroke-width="1.6" stroke-opacity="0.8" clip-path="url(#cci)"/>
<polygon points="528.44,741.38 532.08,745.01 528.44,748.65 524.80,745.01" fill="none" stroke="#e5262b" stroke-width="1.6" stroke-opacity="0.8" clip-path="url(#cci)"/>
<polygon points="634.00,740.16 637.64,743.80 634.00,747.44 630.36,743.80" fill="none" stroke="#e5262b" stroke-width="1.6" stroke-opacity="0.8" clip-path="url(#cci)"/>
<polygon points="844.75,556.56 848.39,560.20 844.75,563.84 841.12,560.20" fill="none" stroke="#e5262b" stroke-width="1.6" stroke-opacity="0.8" clip-path="url(#cci)"/>
<polygon points="1058.04,405.36 1061.68,409.00 1058.04,412.64 1054.40,409.00" fill="none" stroke="#e5262b" stroke-width="1.6" stroke-opacity="0.8" clip-path="url(#cci)"/>
<polygon points="1267.71,228.51 1271.35,232.15 1267.71,235.79 1264.07,232.15" fill="none" stroke="#e5262b" stroke-width="1.6" stroke-opacity="0.8" clip-path="url(#cci)"/>
<polygon points="1480.99,46.26 1484.63,49.90 1480.99,53.54 1477.35,49.90" fill="none" stroke="#e5262b" stroke-width="1.6" stroke-opacity="0.8" clip-path="url(#cci)"/>
<polygon points="1694.28,-103.59 1697.92,-99.95 1694.28,-96.31 1690.64,-99.95" fill="none" stroke="#e5262b" stroke-width="1.6" stroke-opacity="0.8" clip-path="url(#cci)"/>
<polygon points="1903.95,-434.34 1907.59,-430.70 1903.95,-427.06 1900.31,-430.70" fill="none" stroke="#e5262b" stroke-width="1.6" stroke-opacity="0.8" clip-path="url(#cci)"/>
<polygon points="2113.62,-678.69 2117.26,-675.05 2113.62,-671.41 2109.98,-675.05" fill="none" stroke="#e5262b" stroke-width="1.6" stroke-opacity="0.8" clip-path="url(#cci)"/>
<polygon points="2326.90,-626.04 2330.54,-622.40 2326.90,-618.76 2323.26,-622.40" fill="none" stroke="#e5262b" stroke-width="1.6" stroke-opacity="0.8" clip-path="url(#cci)"/>
<polygon points="2540.19,-852.84 2543.83,-849.20 2540.19,-845.56 2536.55,-849.20" fill="none" stroke="#e5262b" stroke-width="1.6" stroke-opacity="0.8" clip-path="url(#cci)"/>
<polyline points="421.80,715.58 584.48,715.58 729.08,715.58" fill="none" stroke="#9a6bb0" stroke-width="1.3" stroke-opacity="0.92" stroke-linejoin="round" clip-path="url(#cci)"/>
<polygon points="421.80,707.62 422.80,710.02 425.39,710.23 423.42,711.93 424.02,714.46 421.80,713.10 419.58,714.46 420.18,711.93 418.21,710.23 420.80,710.02" stroke-linejoin="round" fill="none" stroke="#9a6bb0" stroke-width="1.6" stroke-opacity="0.8" clip-path="url(#cci)"/>
<polygon points="729.08,711.67 730.07,714.07 732.67,714.28 730.69,715.98 731.30,718.51 729.08,717.15 726.85,718.51 727.46,715.98 725.48,714.28 728.08,714.07" stroke-linejoin="round" fill="none" stroke="#9a6bb0" stroke-width="1.6" stroke-opacity="0.8" clip-path="url(#cci)"/>
<polygon points="1036.35,711.67 1037.35,714.07 1039.94,714.28 1037.97,715.98 1038.57,718.51 1036.35,717.15 1034.13,718.51 1034.73,715.98 1032.76,714.28 1035.35,714.07" stroke-linejoin="round" fill="none" stroke="#9a6bb0" stroke-width="1.6" stroke-opacity="0.8" clip-path="url(#cci)"/>
<polygon points="1343.62,711.67 1344.62,714.07 1347.22,714.28 1345.24,715.98 1345.85,718.51 1343.62,717.15 1341.40,718.51 1342.01,715.98 1340.03,714.28 1342.63,714.07" stroke-linejoin="round" fill="none" stroke="#9a6bb0" stroke-width="1.6" stroke-opacity="0.8" clip-path="url(#cci)"/>
<polygon points="1650.90,711.67 1651.90,714.07 1654.49,714.28 1652.52,715.98 1653.12,718.51 1650.90,717.15 1648.68,718.51 1649.28,715.98 1647.31,714.28 1649.90,714.07" stroke-linejoin="round" fill="none" stroke="#9a6bb0" stroke-width="1.6" stroke-opacity="0.8" clip-path="url(#cci)"/>
<polygon points="1958.17,715.72 1959.17,718.12 1961.77,718.33 1959.79,720.03 1960.40,722.56 1958.17,721.20 1955.95,722.56 1956.56,720.03 1954.58,718.33 1957.18,718.12" stroke-linejoin="round" fill="none" stroke="#9a6bb0" stroke-width="1.6" stroke-opacity="0.8" clip-path="url(#cci)"/>
<polygon points="2265.45,715.72 2266.45,718.12 2269.04,718.33 2267.07,720.03 2267.67,722.56 2265.45,721.20 2263.23,722.56 2263.83,720.03 2261.86,718.33 2264.45,718.12" stroke-linejoin="round" fill="none" stroke="#9a6bb0" stroke-width="1.6" stroke-opacity="0.8" clip-path="url(#cci)"/>
<polygon points="2572.72,704.92 2573.72,707.32 2576.32,707.53 2574.34,709.23 2574.95,711.76 2572.72,710.40 2570.50,711.76 2571.11,709.23 2569.13,707.53 2571.73,707.32" stroke-linejoin="round" fill="none" stroke="#9a6bb0" stroke-width="1.6" stroke-opacity="0.8" clip-path="url(#cci)"/>
<polygon points="2880.00,734.62 2881.00,737.02 2883.59,737.23 2881.62,738.93 2882.22,741.46 2880.00,740.10 2877.78,741.46 2878.38,738.93 2876.41,737.23 2879.00,737.02" stroke-linejoin="round" fill="none" stroke="#9a6bb0" stroke-width="1.6" stroke-opacity="0.8" clip-path="url(#cci)"/>
<polygon points="3187.27,753.52 3188.27,755.92 3190.87,756.13 3188.89,757.83 3189.50,760.36 3187.27,759.00 3185.05,760.36 3185.66,757.83 3183.68,756.13 3186.28,755.92" stroke-linejoin="round" fill="none" stroke="#9a6bb0" stroke-width="1.6" stroke-opacity="0.8" clip-path="url(#cci)"/>
<polygon points="3494.55,767.02 3495.55,769.42 3498.14,769.63 3496.17,771.33 3496.77,773.86 3494.55,772.50 3492.33,773.86 3492.93,771.33 3490.96,769.63 3493.55,769.42" stroke-linejoin="round" fill="none" stroke="#9a6bb0" stroke-width="1.6" stroke-opacity="0.8" clip-path="url(#cci)"/>
<rect x="403.4" y="644.0" width="180.80000000000007" height="120.20000000000005" fill="none" stroke="#444" stroke-width="0.9"/>
<line x1="421.80" y1="764.2" x2="421.80" y2="766.7" stroke="#222" stroke-width="0.9"/>
<text x="422.05" y="780.18" font-size="10.5" text-anchor="middle" font-weight="normal" fill="#000" stroke="#000" stroke-width="0.15">0</text>
<line x1="457.95" y1="764.2" x2="457.95" y2="766.7" stroke="#222" stroke-width="0.9"/>
<text x="458.20" y="780.18" font-size="10.5" text-anchor="middle" font-weight="normal" fill="#000" stroke="#000" stroke-width="0.15">100</text>
<line x1="494.10" y1="764.2" x2="494.10" y2="766.7" stroke="#222" stroke-width="0.9"/>
<text x="494.35" y="780.18" font-size="10.5" text-anchor="middle" font-weight="normal" fill="#000" stroke="#000" stroke-width="0.15">200</text>
<line x1="530.25" y1="764.2" x2="530.25" y2="766.7" stroke="#222" stroke-width="0.9"/>
<text x="530.50" y="780.18" font-size="10.5" text-anchor="middle" font-weight="normal" fill="#000" stroke="#000" stroke-width="0.15">300</text>
<line x1="566.40" y1="764.2" x2="566.40" y2="766.7" stroke="#222" stroke-width="0.9"/>
<text x="566.65" y="780.18" font-size="10.5" text-anchor="middle" font-weight="normal" fill="#000" stroke="#000" stroke-width="0.15">400</text>
<line x1="400.9" y1="738.40" x2="403.4" y2="738.40" stroke="#222" stroke-width="0.9"/>
<text x="396.30" y="742.68" font-size="10.5" text-anchor="end" font-weight="normal" fill="#000" stroke="#000" stroke-width="0.15">−0.02</text>
<line x1="400.9" y1="711.40" x2="403.4" y2="711.40" stroke="#222" stroke-width="0.9"/>
<text x="396.30" y="715.68" font-size="10.5" text-anchor="end" font-weight="normal" fill="#000" stroke="#000" stroke-width="0.15">0.00</text>
<line x1="400.9" y1="684.40" x2="403.4" y2="684.40" stroke="#222" stroke-width="0.9"/>
<text x="396.30" y="688.68" font-size="10.5" text-anchor="end" font-weight="normal" fill="#000" stroke="#000" stroke-width="0.15">0.02</text>
<line x1="400.9" y1="657.40" x2="403.4" y2="657.40" stroke="#222" stroke-width="0.9"/>
<text x="396.30" y="661.68" font-size="10.5" text-anchor="end" font-weight="normal" fill="#000" stroke="#000" stroke-width="0.15">0.04</text>
<text x="494.45" y="795.10" font-size="10.4" text-anchor="middle" font-weight="normal" fill="#000" stroke="#000" stroke-width="0.15">Cantilever amplitude (pm)</text>
</svg></body></html>
